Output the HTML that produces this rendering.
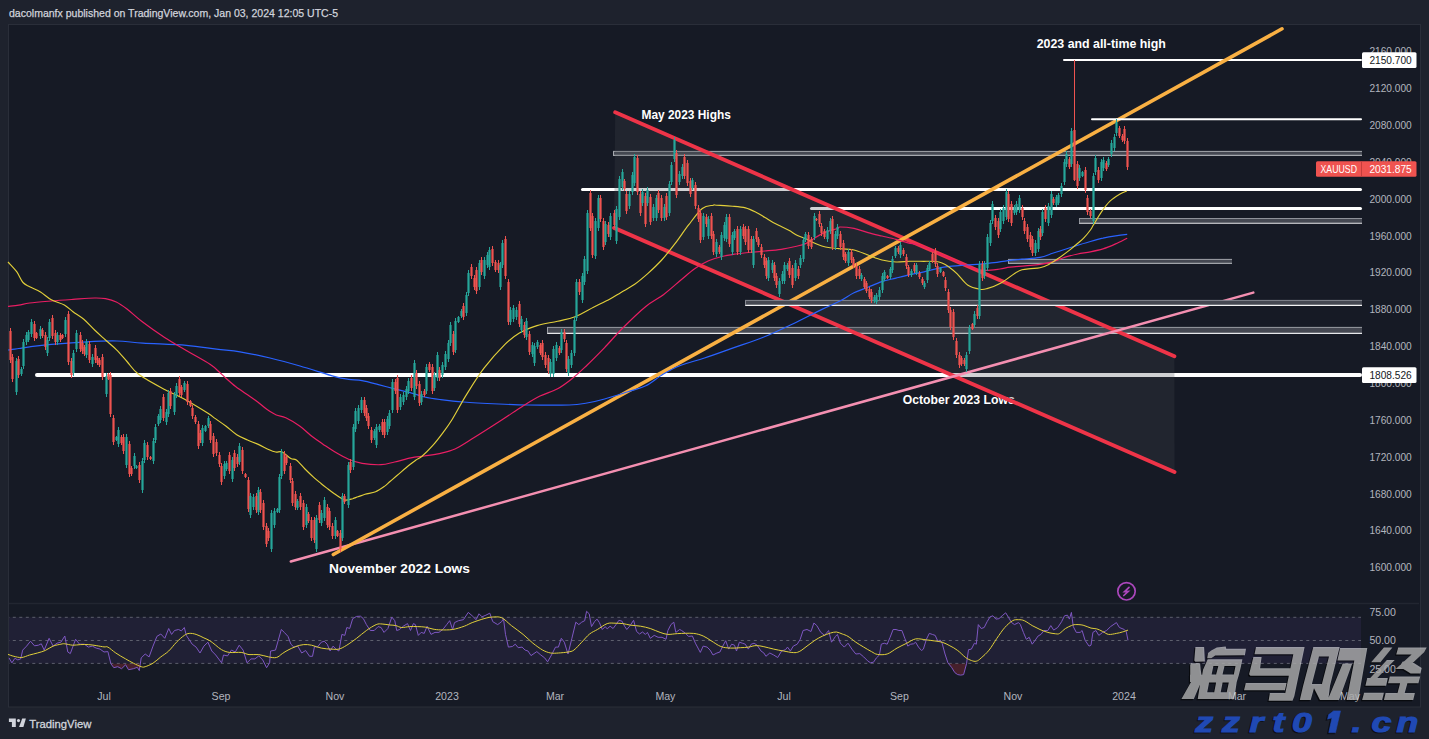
<!DOCTYPE html><html><head><meta charset="utf-8"><title>XAUUSD</title><style>
html,body{margin:0;padding:0;width:1429px;height:739px;overflow:hidden;background:#1e222d}
svg{position:absolute;left:0;top:0;display:block}
text{font-family:"Liberation Sans",sans-serif}
</style></head><body>
<svg width="1429" height="739" viewBox="0 0 1429 739">
<rect x="0" y="0" width="1429" height="739" fill="#1e222d"/>
<rect x="8.5" y="24.5" width="1412" height="682.5" fill="#161a25" stroke="#2a2e39" stroke-width="1"/>
<text x="9" y="17" font-size="11" fill="#d1d4dc" stroke="#d1d4dc" stroke-width="0.25" textLength="329" lengthAdjust="spacingAndGlyphs">dacolmanfx published on TradingView.com, Jan 03, 2024 12:05 UTC-5</text>
<line x1="9" y1="603.5" x2="1419" y2="603.5" stroke="#222631" stroke-width="1.5"/>
<rect x="9" y="617.3" width="1352" height="46.1" fill="#7e57c2" fill-opacity="0.1"/>
<line x1="9" y1="617.3" x2="1361" y2="617.3" stroke="#787b86" stroke-width="1" stroke-dasharray="3 3.5" stroke-dashoffset="2.7" stroke-opacity="0.7"/>
<line x1="9" y1="640.5" x2="1361" y2="640.5" stroke="#787b86" stroke-width="1" stroke-dasharray="3 3.5" stroke-dashoffset="2.7" stroke-opacity="0.7"/>
<line x1="9" y1="663.4" x2="1361" y2="663.4" stroke="#787b86" stroke-width="1" stroke-dasharray="3 3.5" stroke-dashoffset="2.7" stroke-opacity="0.7"/>
<line x1="1064.0" y1="60.1" x2="1361.0" y2="60.1" stroke="#ffffff" stroke-width="2" stroke-linecap="round"/>
<line x1="582.5" y1="189.6" x2="1360.5" y2="189.6" stroke="#ffffff" stroke-width="3" stroke-linecap="round"/>
<line x1="811.5" y1="208.4" x2="1360.5" y2="208.4" stroke="#ffffff" stroke-width="3" stroke-linecap="round"/>
<line x1="37.0" y1="375" x2="1360.0" y2="375" stroke="#ffffff" stroke-width="4" stroke-linecap="round"/>
<g font-weight="700" fill="#ffffff">
<text x="1036.7" y="48.3" font-size="12.8" textLength="129.2" lengthAdjust="spacingAndGlyphs">2023 and all-time high</text>
<text x="641.5" y="118.9" font-size="12.2" textLength="89.3" lengthAdjust="spacingAndGlyphs">May 2023 Highs</text>
<text x="329" y="572.9" font-size="12.6" textLength="141" lengthAdjust="spacingAndGlyphs">November 2022 Lows</text>
<text x="902.7" y="404.3" font-size="11.9" textLength="112" lengthAdjust="spacingAndGlyphs">October 2023 Lows</text>
</g>
<rect x="613" y="151.4" width="749" height="4.0" fill="#454852"/>
<line x1="613" y1="151.4" x2="1362" y2="151.4" stroke="#a5a8ae" stroke-width="1"/>
<line x1="613" y1="155.4" x2="1362" y2="155.4" stroke="#a5a8ae" stroke-width="1.1"/>
<line x1="613.5" y1="151.4" x2="613.5" y2="155.4" stroke="#a5a8ae" stroke-width="1"/>
<rect x="547" y="327.4" width="815" height="6.0" fill="#454852"/>
<line x1="547" y1="327.4" x2="1362" y2="327.4" stroke="#9a9da4" stroke-width="1"/>
<line x1="547" y1="333.4" x2="1362" y2="333.4" stroke="#e6e7ea" stroke-width="1.1"/>
<line x1="547.5" y1="327.4" x2="547.5" y2="333.4" stroke="#9a9da4" stroke-width="1"/>
<rect x="1079" y="218.5" width="283" height="4.8" fill="#454852"/>
<line x1="1079" y1="218.5" x2="1362" y2="218.5" stroke="#8e9199" stroke-width="1"/>
<line x1="1079" y1="223.3" x2="1362" y2="223.3" stroke="#e6e7ea" stroke-width="1.1"/>
<line x1="1079.5" y1="218.5" x2="1079.5" y2="223.3" stroke="#8e9199" stroke-width="1"/>
<rect x="1008" y="259.4" width="224" height="4.0" fill="#454852"/>
<line x1="1008" y1="259.4" x2="1232" y2="259.4" stroke="#a0a3a9" stroke-width="1"/>
<line x1="1008" y1="263.4" x2="1232" y2="263.4" stroke="#a0a3a9" stroke-width="1.1"/>
<line x1="1008.5" y1="259.4" x2="1008.5" y2="263.4" stroke="#a0a3a9" stroke-width="1"/>
<polygon points="615.2,112.3 1174.4,356.3 1174.5,472 614.1,227.9" fill="#434651" fill-opacity="0.25"/>
<line x1="615.2" y1="112.3" x2="1174.4" y2="356.3" stroke="#ee3448" stroke-width="3.9" stroke-linecap="round"/>
<line x1="614.1" y1="227.9" x2="1174.5" y2="472" stroke="#ee3448" stroke-width="3.9" stroke-linecap="round"/>
<line x1="290.8" y1="561.5" x2="1253.3" y2="292.6" stroke="#f48fb1" stroke-width="2.5" stroke-linecap="round"/>
<line x1="333.3" y1="554.5" x2="1282" y2="28.8" stroke="#f9b043" stroke-width="3.6" stroke-linecap="round"/>
<line x1="1092" y1="119.2" x2="1361" y2="119.2" stroke="#ffffff" stroke-width="2" stroke-linecap="round"/>
<rect x="745" y="300.4" width="617" height="5.0" fill="#454852"/>
<line x1="745" y1="300.4" x2="1362" y2="300.4" stroke="#858891" stroke-width="1"/>
<line x1="745" y1="305.4" x2="1362" y2="305.4" stroke="#f2f2f4" stroke-width="1.1"/>
<line x1="745.5" y1="300.4" x2="745.5" y2="305.4" stroke="#858891" stroke-width="1"/>
<path d="M8.0,350.0 C9.8,349.8 15.2,349.0 18.8,348.5 C22.4,348.0 24.3,347.5 29.7,346.8 C35.1,346.1 41.8,345.2 51.3,344.4 C60.8,343.6 75.8,342.4 86.7,341.8 C97.7,341.2 107.6,340.8 117.0,341.0 C126.4,341.2 131.4,342.4 143.0,343.1 C154.6,343.8 174.0,344.3 186.3,345.3 C198.6,346.3 207.7,348.1 216.6,349.2 C225.5,350.3 231.1,350.3 240.0,351.8 C248.9,353.3 260.0,355.6 270.0,358.0 C280.0,360.4 289.2,362.9 300.0,366.0 C310.8,369.1 326.9,374.4 335.0,376.6 C343.1,378.8 344.1,378.6 348.6,379.3 C353.1,380.0 357.1,379.8 362.1,380.7 C367.1,381.6 373.0,383.3 378.4,384.7 C383.8,386.1 389.2,387.4 394.6,388.8 C400.0,390.2 405.9,391.4 410.9,392.8 C415.9,394.2 419.5,395.9 424.4,397.0 C429.2,398.1 433.5,398.7 440.0,399.5 C446.5,400.3 453.7,401.2 463.5,402.0 C473.3,402.8 488.0,403.5 498.8,404.0 C509.6,404.5 516.5,404.8 528.2,405.0 C540.0,405.2 559.5,405.3 569.3,405.0 C579.1,404.7 581.1,404.0 587.0,403.0 C592.9,402.0 597.8,400.9 604.6,399.0 C611.4,397.1 621.1,393.9 628.0,391.7 C634.9,389.5 639.9,388.8 645.8,385.8 C651.7,382.9 657.5,377.4 663.4,374.0 C669.3,370.6 674.1,367.9 681.0,365.2 C687.9,362.5 695.7,360.9 704.5,358.0 C713.3,355.1 724.2,351.1 734.0,347.6 C743.8,344.2 753.5,341.2 763.3,337.3 C773.1,333.4 782.9,328.6 792.7,324.0 C802.5,319.4 814.1,313.2 822.0,309.4 C829.9,305.6 834.7,303.8 840.0,301.0 C845.3,298.2 849.3,295.1 854.0,292.8 C858.7,290.5 863.3,289.1 868.0,287.2 C872.7,285.3 877.3,283.1 882.0,281.6 C886.7,280.1 891.3,279.3 896.0,278.1 C900.7,276.9 905.3,275.7 910.0,274.6 C914.7,273.6 919.3,272.9 924.0,271.8 C928.7,270.8 933.3,269.2 938.0,268.3 C942.7,267.4 947.3,266.8 952.0,266.2 C956.7,265.6 961.3,265.4 966.0,265.0 C970.7,264.6 975.3,264.5 980.0,264.1 C984.7,263.7 989.3,263.3 994.0,262.7 C998.7,262.1 1003.3,261.2 1008.0,260.6 C1012.7,260.0 1016.7,259.7 1022.0,259.2 C1027.3,258.7 1034.9,258.4 1040.0,257.4 C1045.1,256.4 1048.4,254.7 1052.6,253.3 C1056.8,251.9 1061.0,250.5 1065.2,249.2 C1069.4,247.8 1073.6,246.5 1077.8,245.2 C1082.0,243.9 1086.2,242.7 1090.4,241.5 C1094.6,240.3 1098.8,239.1 1103.0,238.2 C1107.2,237.2 1111.6,236.4 1115.6,235.8 C1119.6,235.2 1125.3,234.6 1127.2,234.4" fill="none" stroke="#2962ff" stroke-width="1.2"/>
<path d="M8.0,306.3 C9.8,306.1 15.2,305.8 18.8,305.2 C22.4,304.6 24.3,303.7 29.7,303.0 C35.1,302.3 44.1,301.6 51.3,301.0 C58.5,300.4 65.8,299.9 73.0,299.4 C80.2,298.9 89.2,298.1 94.6,298.0 C100.0,297.9 101.9,298.0 105.5,298.7 C109.1,299.4 112.7,300.3 116.3,302.0 C119.9,303.7 122.5,305.6 127.0,309.0 C131.4,312.4 136.7,317.6 143.0,322.3 C149.3,327.1 157.4,332.8 164.6,337.5 C171.8,342.2 178.7,346.0 186.3,350.5 C193.9,355.0 204.5,360.7 210.0,364.3 C215.5,367.9 217.1,370.2 219.5,372.3 C221.9,374.4 221.5,374.2 224.2,376.6 C226.9,379.0 231.6,383.4 235.6,386.5 C239.6,389.6 244.3,392.5 247.9,395.0 C251.5,397.5 254.2,399.3 257.4,401.7 C260.5,404.1 263.6,407.1 266.8,409.3 C270.0,411.5 273.1,413.6 276.3,415.0 C279.5,416.4 281.9,415.9 285.8,417.8 C289.8,419.7 295.6,423.1 300.0,426.3 C304.4,429.5 308.6,433.8 312.5,436.8 C316.4,439.8 319.7,441.9 323.3,444.4 C326.9,446.8 330.0,449.0 334.2,451.5 C338.4,454.0 344.0,457.2 348.6,459.2 C353.2,461.2 356.7,462.4 362.1,463.3 C367.5,464.2 375.6,464.9 381.0,464.7 C386.4,464.5 389.6,463.1 394.6,462.0 C399.6,460.9 405.9,458.9 410.9,457.9 C415.9,456.9 419.9,456.7 424.4,456.0 C428.9,455.3 432.9,455.0 438.0,453.8 C443.1,452.6 448.8,451.8 455.0,449.0 C461.2,446.2 467.2,441.8 475.0,437.0 C482.8,432.2 493.8,425.1 501.7,420.0 C509.6,414.9 515.9,410.4 522.3,406.4 C528.7,402.4 534.1,398.9 540.0,396.0 C545.9,393.1 552.2,391.7 557.6,388.8 C563.0,385.9 567.4,382.4 572.3,378.5 C577.2,374.6 581.6,370.3 587.0,365.2 C592.4,360.1 598.7,353.7 604.6,347.6 C610.5,341.5 615.4,335.4 622.3,328.5 C629.2,321.6 638.9,312.1 645.8,306.5 C652.6,300.9 657.4,299.2 663.4,294.7 C669.4,290.2 676.2,283.9 681.5,279.5 C686.8,275.1 690.5,271.6 695.0,268.5 C699.5,265.4 704.1,262.8 708.6,260.8 C713.1,258.8 717.5,257.6 722.0,256.5 C726.5,255.4 731.2,254.7 735.7,254.0 C740.2,253.3 743.8,253.0 748.7,252.5 C753.6,252.0 759.6,251.5 765.0,251.0 C770.4,250.5 775.8,250.1 781.2,249.3 C786.6,248.5 793.4,246.9 797.5,246.0 C801.6,245.1 802.9,244.8 805.6,243.6 C808.3,242.4 811.0,240.3 813.7,238.7 C816.4,237.1 819.1,235.2 821.8,233.9 C824.5,232.6 827.3,231.5 830.0,230.6 C832.7,229.7 836.3,229.1 838.0,228.5 C839.7,227.9 837.3,227.0 840.0,227.0 C842.7,227.0 849.3,227.5 854.0,228.4 C858.7,229.3 863.3,231.3 868.0,232.6 C872.7,233.9 877.3,234.9 882.0,236.0 C886.7,237.1 891.7,238.2 896.0,239.3 C900.3,240.4 904.0,241.8 908.0,242.8 C912.0,243.8 915.5,243.8 920.0,245.3 C924.5,246.8 930.0,249.6 935.0,251.8 C940.0,254.0 945.0,256.2 950.0,258.4 C955.0,260.6 960.7,263.1 965.0,264.9 C969.3,266.7 972.5,268.3 976.0,269.2 C979.5,270.1 982.0,270.4 986.0,270.4 C990.0,270.4 996.0,269.5 1000.0,269.0 C1004.0,268.5 1005.8,267.7 1010.0,267.2 C1014.2,266.7 1020.0,266.3 1025.0,265.8 C1030.0,265.3 1035.4,265.1 1040.0,264.4 C1044.6,263.7 1048.4,263.0 1052.6,261.8 C1056.8,260.6 1061.0,258.4 1065.2,257.1 C1069.4,255.8 1073.6,254.9 1077.8,254.0 C1082.0,253.1 1086.2,252.7 1090.4,251.8 C1094.6,251.0 1098.8,250.2 1103.0,248.9 C1107.2,247.6 1111.6,245.7 1115.6,243.9 C1119.6,242.1 1125.3,239.1 1127.2,238.2" fill="none" stroke="#e91e63" stroke-width="1.2"/>
<path d="M8.0,262.0 C9.4,263.6 14.2,268.3 16.7,271.7 C19.2,275.1 20.8,280.0 23.0,282.5 C25.2,285.0 26.8,285.2 29.7,286.8 C32.6,288.4 36.9,289.8 40.5,292.0 C44.1,294.2 47.3,297.6 51.3,299.8 C55.3,302.0 60.7,303.0 64.3,305.0 C67.9,307.0 69.8,309.3 73.0,311.7 C76.2,314.1 80.2,316.2 83.8,319.3 C87.4,322.4 91.0,326.6 94.6,330.0 C98.2,333.4 101.9,336.7 105.5,340.0 C109.1,343.3 112.7,346.0 116.3,349.6 C119.9,353.2 123.3,357.4 127.0,361.5 C130.7,365.6 132.3,369.6 138.6,374.3 C144.9,379.0 156.6,385.2 164.6,389.5 C172.6,393.8 179.1,396.3 186.3,400.3 C193.5,404.3 203.2,410.3 208.0,413.3 C212.8,416.3 212.0,416.3 215.0,418.4 C218.0,420.5 222.2,423.3 225.8,426.0 C229.4,428.7 233.1,432.4 236.7,434.7 C240.3,437.0 243.9,438.4 247.5,440.0 C251.1,441.6 254.7,442.8 258.3,444.4 C261.9,446.0 266.3,448.5 269.2,449.8 C272.1,451.1 273.5,451.6 275.7,452.0 C277.9,452.4 279.7,450.9 282.2,452.0 C284.7,453.1 288.4,457.2 290.8,458.5 C293.2,459.8 294.0,458.2 296.4,460.0 C298.8,461.8 302.1,466.1 305.0,469.0 C307.9,471.9 311.3,475.2 314.0,477.6 C316.7,480.0 318.7,481.6 321.0,483.5 C323.3,485.4 325.8,487.3 328.0,489.0 C330.2,490.7 331.9,492.0 334.0,493.5 C336.1,495.0 338.4,496.7 340.4,497.8 C342.3,498.9 343.6,500.0 345.7,500.1 C347.8,500.2 350.6,499.2 352.7,498.7 C354.8,498.1 355.9,497.5 358.0,496.8 C360.1,496.1 362.1,495.2 365.0,494.3 C367.9,493.4 372.4,493.0 375.6,491.7 C378.8,490.4 382.0,488.1 384.4,486.4 C386.8,484.7 387.9,483.3 390.0,481.5 C392.1,479.7 393.5,478.5 396.7,475.8 C399.9,473.1 405.8,467.9 409.0,465.3 C412.2,462.7 413.9,461.5 416.0,460.0 C418.1,458.5 418.9,458.9 421.7,456.5 C424.5,454.1 429.0,449.8 432.6,445.7 C436.2,441.6 440.2,436.4 443.4,432.1 C446.6,427.8 447.9,426.2 451.8,420.0 C455.7,413.8 461.1,403.2 466.5,394.6 C471.9,386.0 477.6,376.5 484.0,368.2 C490.4,359.9 498.8,350.6 504.7,344.7 C510.6,338.8 514.0,336.2 519.4,333.0 C524.8,329.8 530.6,327.6 537.0,325.6 C543.4,323.6 551.3,322.7 557.6,321.2 C563.9,319.7 568.9,319.1 575.0,316.7 C581.1,314.3 588.2,309.9 594.0,307.0 C599.8,304.1 605.5,301.4 610.0,299.0 C614.5,296.6 616.9,294.8 621.0,292.4 C625.1,289.9 630.2,287.5 634.7,284.3 C639.2,281.1 643.5,277.4 648.0,273.4 C652.5,269.3 657.2,264.9 661.7,260.0 C666.2,255.1 670.5,249.6 675.0,243.7 C679.5,237.8 684.2,230.6 688.8,224.7 C693.3,218.8 698.2,211.8 702.3,208.5 C706.4,205.2 710.9,205.8 713.2,205.2 C715.5,204.6 713.0,205.0 716.2,205.2 C719.4,205.4 727.6,205.8 732.5,206.2 C737.4,206.6 741.4,206.8 745.5,207.9 C749.6,209.0 753.6,211.1 756.9,212.7 C760.1,214.3 762.3,216.0 765.0,217.6 C767.7,219.2 770.4,221.0 773.1,222.5 C775.8,224.0 778.5,225.2 781.2,226.5 C783.9,227.8 786.6,229.1 789.3,230.6 C792.0,232.1 794.8,234.2 797.5,235.5 C800.2,236.8 802.9,237.5 805.6,238.7 C808.3,239.9 811.0,241.6 813.7,242.8 C816.4,244.0 819.1,245.2 821.8,246.0 C824.5,246.8 827.3,247.3 830.0,247.7 C832.7,248.1 836.3,248.3 838.0,248.5 C839.7,248.7 837.3,248.4 840.0,248.7 C842.7,248.9 849.3,248.9 854.0,250.0 C858.7,251.1 863.3,253.3 868.0,255.0 C872.7,256.7 877.3,258.8 882.0,260.0 C886.7,261.2 891.3,261.8 896.0,262.0 C900.7,262.2 905.3,261.4 910.0,261.3 C914.7,261.2 919.7,261.3 924.0,261.3 C928.3,261.3 933.0,261.2 936.0,261.5 C939.0,261.8 940.0,262.2 942.0,263.0 C944.0,263.8 945.8,264.7 948.3,266.5 C950.8,268.3 954.0,270.8 957.2,273.9 C960.4,277.0 963.8,282.4 967.6,285.0 C971.4,287.6 976.8,288.7 980.0,289.3 C983.2,289.9 983.5,289.7 987.0,288.6 C990.5,287.6 996.3,285.6 1001.0,283.0 C1005.7,280.4 1011.5,275.4 1015.0,273.2 C1018.5,271.0 1019.3,270.5 1022.0,269.7 C1024.7,268.9 1028.0,268.9 1031.0,268.6 C1034.0,268.3 1037.0,268.5 1040.0,267.8 C1043.0,267.1 1045.6,266.0 1048.8,264.4 C1052.0,262.8 1055.3,260.5 1058.9,258.0 C1062.5,255.5 1067.1,252.0 1070.2,249.6 C1073.3,247.2 1075.5,245.3 1077.8,243.3 C1080.1,241.3 1082.0,239.8 1084.1,237.6 C1086.2,235.4 1088.8,232.2 1090.4,230.0 C1092.0,227.8 1091.8,227.6 1093.7,224.5 C1095.6,221.4 1099.1,215.3 1101.8,211.4 C1104.5,207.5 1107.0,204.1 1110.0,201.2 C1113.0,198.3 1117.3,195.7 1120.1,194.0 C1122.9,192.3 1125.7,191.5 1126.8,191.0" fill="none" stroke="#e2cf3a" stroke-width="1.15"/>
<g shape-rendering="crispEdges"><rect x="10" y="328" width="1" height="35" fill="#ef5350"/><rect x="12" y="354" width="1" height="28" fill="#ef5350"/><rect x="16" y="358" width="1" height="37" fill="#26a69a"/><rect x="18" y="356" width="1" height="22" fill="#ef5350"/><rect x="21" y="367" width="1" height="9" fill="#26a69a"/><rect x="23" y="339" width="1" height="30" fill="#26a69a"/><rect x="26" y="332" width="1" height="13" fill="#26a69a"/><rect x="28" y="330" width="1" height="12" fill="#26a69a"/><rect x="31" y="319" width="1" height="18" fill="#26a69a"/><rect x="34" y="321" width="1" height="20" fill="#ef5350"/><rect x="36" y="332" width="1" height="7" fill="#ef5350"/><rect x="40" y="326" width="1" height="13" fill="#26a69a"/><rect x="42" y="328" width="1" height="10" fill="#ef5350"/><rect x="45" y="332" width="1" height="18" fill="#ef5350"/><rect x="47" y="337" width="1" height="19" fill="#26a69a"/><rect x="49" y="319" width="1" height="22" fill="#26a69a"/><rect x="52" y="315" width="1" height="24" fill="#ef5350"/><rect x="55" y="330" width="1" height="15" fill="#ef5350"/><rect x="57" y="332" width="1" height="13" fill="#26a69a"/><rect x="60" y="333" width="1" height="9" fill="#ef5350"/><rect x="62" y="334" width="1" height="5" fill="#ef5350"/><rect x="65" y="317" width="1" height="20" fill="#26a69a"/><rect x="68" y="311" width="1" height="54" fill="#ef5350"/><rect x="71" y="358" width="1" height="20" fill="#ef5350"/><rect x="73" y="350" width="1" height="26" fill="#26a69a"/><rect x="76" y="330" width="1" height="22" fill="#26a69a"/><rect x="80" y="332" width="1" height="20" fill="#ef5350"/><rect x="82" y="340" width="1" height="14" fill="#ef5350"/><rect x="84" y="345" width="1" height="11" fill="#ef5350"/><rect x="86" y="339" width="1" height="19" fill="#26a69a"/><rect x="89" y="341" width="1" height="22" fill="#ef5350"/><rect x="92" y="354" width="1" height="13" fill="#26a69a"/><rect x="95" y="345" width="1" height="18" fill="#ef5350"/><rect x="97" y="356" width="1" height="9" fill="#ef5350"/><rect x="99" y="358" width="1" height="9" fill="#ef5350"/><rect x="102" y="354" width="1" height="26" fill="#ef5350"/><rect x="106" y="373" width="1" height="24" fill="#26a69a"/><rect x="108" y="373" width="1" height="7" fill="#ef5350"/><rect x="110" y="372" width="1" height="45" fill="#ef5350"/><rect x="113" y="415" width="1" height="30" fill="#ef5350"/><rect x="116" y="436" width="1" height="5" fill="#26a69a"/><rect x="118" y="427" width="1" height="20" fill="#26a69a"/><rect x="121" y="435" width="1" height="10" fill="#ef5350"/><rect x="123" y="434" width="1" height="20" fill="#ef5350"/><rect x="126" y="434" width="1" height="34" fill="#26a69a"/><rect x="129" y="441" width="1" height="36" fill="#ef5350"/><rect x="131" y="466" width="1" height="10" fill="#ef5350"/><rect x="134" y="453" width="1" height="16" fill="#26a69a"/><rect x="136" y="465" width="1" height="4" fill="#26a69a"/><rect x="139" y="462" width="1" height="21" fill="#ef5350"/><rect x="142" y="458" width="1" height="35" fill="#26a69a"/><rect x="144" y="440" width="1" height="23" fill="#26a69a"/><rect x="147" y="442" width="1" height="18" fill="#ef5350"/><rect x="150" y="456" width="1" height="4" fill="#ef5350"/><rect x="153" y="438" width="1" height="26" fill="#26a69a"/><rect x="155" y="424" width="1" height="19" fill="#26a69a"/><rect x="158" y="414" width="1" height="12" fill="#26a69a"/><rect x="160" y="406" width="1" height="17" fill="#26a69a"/><rect x="163" y="394" width="1" height="27" fill="#ef5350"/><rect x="166" y="409" width="1" height="16" fill="#26a69a"/><rect x="168" y="390" width="1" height="27" fill="#26a69a"/><rect x="170" y="388" width="1" height="21" fill="#ef5350"/><rect x="174" y="392" width="1" height="23" fill="#26a69a"/><rect x="176" y="383" width="1" height="15" fill="#26a69a"/><rect x="179" y="376" width="1" height="20" fill="#ef5350"/><rect x="181" y="385" width="1" height="12" fill="#ef5350"/><rect x="184" y="381" width="1" height="11" fill="#26a69a"/><rect x="187" y="381" width="1" height="24" fill="#ef5350"/><rect x="190" y="400" width="1" height="7" fill="#ef5350"/><rect x="192" y="405" width="1" height="14" fill="#ef5350"/><rect x="195" y="415" width="1" height="9" fill="#ef5350"/><rect x="198" y="421" width="1" height="28" fill="#ef5350"/><rect x="200" y="430" width="1" height="13" fill="#ef5350"/><rect x="202" y="425" width="1" height="21" fill="#26a69a"/><rect x="205" y="425" width="1" height="7" fill="#26a69a"/><rect x="208" y="416" width="1" height="12" fill="#26a69a"/><rect x="210" y="421" width="1" height="22" fill="#ef5350"/><rect x="213" y="433" width="1" height="24" fill="#ef5350"/><rect x="216" y="439" width="1" height="17" fill="#ef5350"/><rect x="219" y="452" width="1" height="15" fill="#ef5350"/><rect x="221" y="463" width="1" height="22" fill="#ef5350"/><rect x="224" y="461" width="1" height="18" fill="#26a69a"/><rect x="226" y="461" width="1" height="10" fill="#26a69a"/><rect x="229" y="452" width="1" height="22" fill="#ef5350"/><rect x="232" y="457" width="1" height="25" fill="#26a69a"/><rect x="234" y="450" width="1" height="21" fill="#ef5350"/><rect x="237" y="454" width="1" height="13" fill="#ef5350"/><rect x="239" y="443" width="1" height="22" fill="#26a69a"/><rect x="242" y="447" width="1" height="27" fill="#ef5350"/><rect x="245" y="473" width="1" height="5" fill="#ef5350"/><rect x="248" y="477" width="1" height="35" fill="#ef5350"/><rect x="250" y="493" width="1" height="25" fill="#26a69a"/><rect x="253" y="494" width="1" height="16" fill="#26a69a"/><rect x="256" y="493" width="1" height="20" fill="#ef5350"/><rect x="258" y="487" width="1" height="28" fill="#26a69a"/><rect x="260" y="489" width="1" height="24" fill="#ef5350"/><rect x="263" y="500" width="1" height="30" fill="#ef5350"/><rect x="266" y="523" width="1" height="24" fill="#ef5350"/><rect x="268" y="528" width="1" height="13" fill="#ef5350"/><rect x="271" y="510" width="1" height="42" fill="#26a69a"/><rect x="274" y="508" width="1" height="20" fill="#26a69a"/><rect x="277" y="508" width="1" height="5" fill="#26a69a"/><rect x="279" y="474" width="1" height="39" fill="#26a69a"/><rect x="281" y="449" width="1" height="30" fill="#26a69a"/><rect x="284" y="451" width="1" height="23" fill="#ef5350"/><rect x="286" y="455" width="1" height="10" fill="#ef5350"/><rect x="290" y="463" width="1" height="20" fill="#ef5350"/><rect x="292" y="478" width="1" height="28" fill="#ef5350"/><rect x="295" y="491" width="1" height="19" fill="#ef5350"/><rect x="297" y="499" width="1" height="11" fill="#26a69a"/><rect x="300" y="493" width="1" height="17" fill="#ef5350"/><rect x="303" y="500" width="1" height="30" fill="#ef5350"/><rect x="306" y="504" width="1" height="24" fill="#26a69a"/><rect x="308" y="512" width="1" height="11" fill="#ef5350"/><rect x="311" y="517" width="1" height="24" fill="#ef5350"/><rect x="314" y="517" width="1" height="26" fill="#ef5350"/><rect x="316" y="515" width="1" height="37" fill="#26a69a"/><rect x="319" y="502" width="1" height="21" fill="#ef5350"/><rect x="321" y="510" width="1" height="16" fill="#26a69a"/><rect x="324" y="497" width="1" height="24" fill="#26a69a"/><rect x="327" y="504" width="1" height="24" fill="#ef5350"/><rect x="329" y="508" width="1" height="22" fill="#ef5350"/><rect x="332" y="523" width="1" height="16" fill="#ef5350"/><rect x="335" y="517" width="1" height="22" fill="#26a69a"/><rect x="337" y="530" width="1" height="7" fill="#ef5350"/><rect x="340" y="530" width="1" height="22" fill="#ef5350"/><rect x="342" y="493" width="1" height="48" fill="#26a69a"/><rect x="344" y="494" width="1" height="10" fill="#ef5350"/><rect x="348" y="462" width="1" height="46" fill="#26a69a"/><rect x="350" y="459" width="1" height="14" fill="#ef5350"/><rect x="353" y="424" width="1" height="46" fill="#26a69a"/><rect x="355" y="408" width="1" height="24" fill="#26a69a"/><rect x="358" y="405" width="1" height="19" fill="#26a69a"/><rect x="361" y="397" width="1" height="16" fill="#26a69a"/><rect x="364" y="397" width="1" height="19" fill="#ef5350"/><rect x="366" y="405" width="1" height="16" fill="#ef5350"/><rect x="368" y="413" width="1" height="16" fill="#ef5350"/><rect x="371" y="427" width="1" height="16" fill="#ef5350"/><rect x="374" y="429" width="1" height="11" fill="#26a69a"/><rect x="376" y="424" width="1" height="24" fill="#26a69a"/><rect x="379" y="424" width="1" height="8" fill="#26a69a"/><rect x="382" y="419" width="1" height="16" fill="#ef5350"/><rect x="384" y="419" width="1" height="19" fill="#ef5350"/><rect x="387" y="416" width="1" height="19" fill="#26a69a"/><rect x="389" y="410" width="1" height="19" fill="#26a69a"/><rect x="392" y="379" width="1" height="34" fill="#26a69a"/><rect x="395" y="379" width="1" height="15" fill="#ef5350"/><rect x="397" y="375" width="1" height="38" fill="#ef5350"/><rect x="400" y="394" width="1" height="16" fill="#26a69a"/><rect x="403" y="392" width="1" height="13" fill="#26a69a"/><rect x="406" y="386" width="1" height="14" fill="#26a69a"/><rect x="408" y="378" width="1" height="16" fill="#26a69a"/><rect x="411" y="375" width="1" height="16" fill="#ef5350"/><rect x="414" y="360" width="1" height="40" fill="#26a69a"/><rect x="416" y="370" width="1" height="19" fill="#ef5350"/><rect x="419" y="381" width="1" height="25" fill="#ef5350"/><rect x="421" y="391" width="1" height="14" fill="#26a69a"/><rect x="424" y="389" width="1" height="8" fill="#ef5350"/><rect x="426" y="364" width="1" height="30" fill="#26a69a"/><rect x="429" y="362" width="1" height="10" fill="#ef5350"/><rect x="432" y="364" width="1" height="30" fill="#ef5350"/><rect x="434" y="372" width="1" height="19" fill="#26a69a"/><rect x="437" y="352" width="1" height="29" fill="#26a69a"/><rect x="439" y="367" width="1" height="14" fill="#ef5350"/><rect x="442" y="362" width="1" height="16" fill="#26a69a"/><rect x="445" y="351" width="1" height="19" fill="#26a69a"/><rect x="448" y="340" width="1" height="22" fill="#26a69a"/><rect x="450" y="322" width="1" height="24" fill="#26a69a"/><rect x="453" y="331" width="1" height="24" fill="#ef5350"/><rect x="455" y="318" width="1" height="35" fill="#26a69a"/><rect x="458" y="316" width="1" height="7" fill="#26a69a"/><rect x="461" y="309" width="1" height="9" fill="#26a69a"/><rect x="463" y="303" width="1" height="17" fill="#ef5350"/><rect x="466" y="292" width="1" height="24" fill="#26a69a"/><rect x="468" y="270" width="1" height="26" fill="#26a69a"/><rect x="471" y="264" width="1" height="15" fill="#ef5350"/><rect x="474" y="275" width="1" height="15" fill="#ef5350"/><rect x="476" y="267" width="1" height="27" fill="#ef5350"/><rect x="479" y="260" width="1" height="30" fill="#26a69a"/><rect x="481" y="257" width="1" height="18" fill="#ef5350"/><rect x="484" y="257" width="1" height="22" fill="#26a69a"/><rect x="487" y="252" width="1" height="16" fill="#26a69a"/><rect x="489" y="247" width="1" height="23" fill="#26a69a"/><rect x="492" y="246" width="1" height="20" fill="#ef5350"/><rect x="495" y="260" width="1" height="12" fill="#ef5350"/><rect x="498" y="260" width="1" height="13" fill="#ef5350"/><rect x="500" y="262" width="1" height="28" fill="#26a69a"/><rect x="502" y="240" width="1" height="28" fill="#26a69a"/><rect x="505" y="236" width="1" height="43" fill="#ef5350"/><rect x="508" y="279" width="1" height="46" fill="#ef5350"/><rect x="510" y="307" width="1" height="18" fill="#26a69a"/><rect x="513" y="305" width="1" height="17" fill="#26a69a"/><rect x="516" y="307" width="1" height="13" fill="#26a69a"/><rect x="519" y="301" width="1" height="26" fill="#ef5350"/><rect x="521" y="316" width="1" height="17" fill="#26a69a"/><rect x="524" y="322" width="1" height="16" fill="#ef5350"/><rect x="526" y="318" width="1" height="22" fill="#26a69a"/><rect x="529" y="331" width="1" height="24" fill="#ef5350"/><rect x="532" y="342" width="1" height="15" fill="#26a69a"/><rect x="534" y="343" width="1" height="23" fill="#26a69a"/><rect x="537" y="340" width="1" height="9" fill="#26a69a"/><rect x="540" y="343" width="1" height="12" fill="#ef5350"/><rect x="542" y="340" width="1" height="20" fill="#ef5350"/><rect x="545" y="352" width="1" height="16" fill="#ef5350"/><rect x="548" y="355" width="1" height="19" fill="#ef5350"/><rect x="550" y="359" width="1" height="18" fill="#26a69a"/><rect x="553" y="346" width="1" height="31" fill="#26a69a"/><rect x="556" y="342" width="1" height="19" fill="#26a69a"/><rect x="559" y="346" width="1" height="9" fill="#ef5350"/><rect x="561" y="329" width="1" height="24" fill="#26a69a"/><rect x="564" y="329" width="1" height="13" fill="#ef5350"/><rect x="566" y="340" width="1" height="32" fill="#ef5350"/><rect x="568" y="356" width="1" height="20" fill="#26a69a"/><rect x="571" y="350" width="1" height="18" fill="#26a69a"/><rect x="574" y="317" width="1" height="39" fill="#26a69a"/><rect x="576" y="279" width="1" height="42" fill="#26a69a"/><rect x="579" y="279" width="1" height="16" fill="#ef5350"/><rect x="582" y="273" width="1" height="30" fill="#26a69a"/><rect x="584" y="256" width="1" height="29" fill="#26a69a"/><rect x="587" y="210" width="1" height="64" fill="#26a69a"/><rect x="590" y="190" width="1" height="41" fill="#ef5350"/><rect x="592" y="213" width="1" height="45" fill="#ef5350"/><rect x="595" y="218" width="1" height="41" fill="#26a69a"/><rect x="598" y="195" width="1" height="36" fill="#26a69a"/><rect x="600" y="195" width="1" height="27" fill="#ef5350"/><rect x="603" y="218" width="1" height="32" fill="#ef5350"/><rect x="605" y="221" width="1" height="24" fill="#26a69a"/><rect x="608" y="222" width="1" height="15" fill="#ef5350"/><rect x="610" y="213" width="1" height="27" fill="#26a69a"/><rect x="614" y="210" width="1" height="18" fill="#ef5350"/><rect x="616" y="206" width="1" height="38" fill="#26a69a"/><rect x="619" y="176" width="1" height="44" fill="#26a69a"/><rect x="622" y="169" width="1" height="21" fill="#26a69a"/><rect x="624" y="179" width="1" height="12" fill="#ef5350"/><rect x="626" y="191" width="1" height="23" fill="#ef5350"/><rect x="629" y="191" width="1" height="18" fill="#26a69a"/><rect x="632" y="172" width="1" height="23" fill="#26a69a"/><rect x="634" y="154" width="1" height="32" fill="#26a69a"/><rect x="637" y="155" width="1" height="40" fill="#ef5350"/><rect x="640" y="191" width="1" height="25" fill="#ef5350"/><rect x="642" y="189" width="1" height="17" fill="#26a69a"/><rect x="645" y="193" width="1" height="34" fill="#ef5350"/><rect x="647" y="187" width="1" height="19" fill="#26a69a"/><rect x="650" y="194" width="1" height="31" fill="#ef5350"/><rect x="653" y="204" width="1" height="17" fill="#26a69a"/><rect x="656" y="195" width="1" height="26" fill="#26a69a"/><rect x="658" y="190" width="1" height="23" fill="#ef5350"/><rect x="661" y="195" width="1" height="26" fill="#ef5350"/><rect x="664" y="204" width="1" height="17" fill="#26a69a"/><rect x="666" y="193" width="1" height="27" fill="#ef5350"/><rect x="669" y="181" width="1" height="35" fill="#26a69a"/><rect x="671" y="162" width="1" height="23" fill="#26a69a"/><rect x="674" y="137" width="1" height="25" fill="#26a69a"/><rect x="676" y="150" width="1" height="48" fill="#ef5350"/><rect x="679" y="171" width="1" height="14" fill="#26a69a"/><rect x="682" y="164" width="1" height="15" fill="#26a69a"/><rect x="684" y="154" width="1" height="25" fill="#ef5350"/><rect x="687" y="160" width="1" height="26" fill="#ef5350"/><rect x="690" y="178" width="1" height="19" fill="#ef5350"/><rect x="692" y="178" width="1" height="12" fill="#26a69a"/><rect x="695" y="182" width="1" height="27" fill="#ef5350"/><rect x="698" y="205" width="1" height="17" fill="#ef5350"/><rect x="700" y="210" width="1" height="33" fill="#ef5350"/><rect x="703" y="213" width="1" height="27" fill="#26a69a"/><rect x="706" y="214" width="1" height="13" fill="#ef5350"/><rect x="708" y="216" width="1" height="23" fill="#26a69a"/><rect x="711" y="213" width="1" height="26" fill="#ef5350"/><rect x="713" y="231" width="1" height="24" fill="#ef5350"/><rect x="716" y="239" width="1" height="18" fill="#26a69a"/><rect x="719" y="245" width="1" height="9" fill="#ef5350"/><rect x="721" y="232" width="1" height="28" fill="#26a69a"/><rect x="724" y="222" width="1" height="19" fill="#26a69a"/><rect x="726" y="214" width="1" height="28" fill="#26a69a"/><rect x="729" y="214" width="1" height="33" fill="#ef5350"/><rect x="732" y="232" width="1" height="23" fill="#26a69a"/><rect x="734" y="229" width="1" height="11" fill="#26a69a"/><rect x="737" y="226" width="1" height="29" fill="#ef5350"/><rect x="740" y="226" width="1" height="29" fill="#26a69a"/><rect x="743" y="224" width="1" height="15" fill="#ef5350"/><rect x="745" y="226" width="1" height="19" fill="#ef5350"/><rect x="748" y="226" width="1" height="27" fill="#ef5350"/><rect x="751" y="236" width="1" height="17" fill="#ef5350"/><rect x="753" y="236" width="1" height="32" fill="#26a69a"/><rect x="756" y="228" width="1" height="14" fill="#ef5350"/><rect x="758" y="237" width="1" height="10" fill="#ef5350"/><rect x="761" y="244" width="1" height="14" fill="#ef5350"/><rect x="764" y="254" width="1" height="14" fill="#ef5350"/><rect x="766" y="258" width="1" height="21" fill="#ef5350"/><rect x="768" y="257" width="1" height="24" fill="#26a69a"/><rect x="772" y="260" width="1" height="13" fill="#26a69a"/><rect x="774" y="262" width="1" height="19" fill="#ef5350"/><rect x="776" y="273" width="1" height="15" fill="#ef5350"/><rect x="779" y="278" width="1" height="19" fill="#26a69a"/><rect x="782" y="271" width="1" height="13" fill="#26a69a"/><rect x="784" y="262" width="1" height="22" fill="#26a69a"/><rect x="787" y="263" width="1" height="8" fill="#26a69a"/><rect x="789" y="258" width="1" height="20" fill="#ef5350"/><rect x="792" y="265" width="1" height="23" fill="#ef5350"/><rect x="795" y="260" width="1" height="21" fill="#26a69a"/><rect x="798" y="266" width="1" height="13" fill="#ef5350"/><rect x="800" y="255" width="1" height="13" fill="#26a69a"/><rect x="803" y="237" width="1" height="25" fill="#26a69a"/><rect x="805" y="232" width="1" height="10" fill="#26a69a"/><rect x="808" y="232" width="1" height="17" fill="#ef5350"/><rect x="811" y="237" width="1" height="12" fill="#ef5350"/><rect x="814" y="213" width="1" height="27" fill="#26a69a"/><rect x="816" y="218" width="1" height="3" fill="#ef5350"/><rect x="819" y="211" width="1" height="16" fill="#ef5350"/><rect x="821" y="223" width="1" height="13" fill="#ef5350"/><rect x="824" y="229" width="1" height="10" fill="#ef5350"/><rect x="827" y="227" width="1" height="15" fill="#26a69a"/><rect x="830" y="218" width="1" height="16" fill="#26a69a"/><rect x="832" y="216" width="1" height="34" fill="#ef5350"/><rect x="835" y="231" width="1" height="19" fill="#26a69a"/><rect x="837" y="224" width="1" height="15" fill="#26a69a"/><rect x="840" y="231" width="1" height="19" fill="#ef5350"/><rect x="843" y="240" width="1" height="20" fill="#ef5350"/><rect x="845" y="252" width="1" height="11" fill="#ef5350"/><rect x="848" y="249" width="1" height="17" fill="#26a69a"/><rect x="851" y="249" width="1" height="14" fill="#ef5350"/><rect x="853" y="257" width="1" height="11" fill="#ef5350"/><rect x="856" y="263" width="1" height="16" fill="#ef5350"/><rect x="859" y="266" width="1" height="13" fill="#ef5350"/><rect x="861" y="273" width="1" height="8" fill="#26a69a"/><rect x="864" y="277" width="1" height="12" fill="#ef5350"/><rect x="866" y="281" width="1" height="12" fill="#ef5350"/><rect x="869" y="287" width="1" height="12" fill="#ef5350"/><rect x="871" y="289" width="1" height="14" fill="#ef5350"/><rect x="874" y="295" width="1" height="8" fill="#26a69a"/><rect x="876" y="293" width="1" height="11" fill="#26a69a"/><rect x="879" y="287" width="1" height="13" fill="#26a69a"/><rect x="882" y="273" width="1" height="20" fill="#26a69a"/><rect x="884" y="270" width="1" height="11" fill="#26a69a"/><rect x="887" y="275" width="1" height="4" fill="#ef5350"/><rect x="890" y="267" width="1" height="12" fill="#26a69a"/><rect x="892" y="256" width="1" height="17" fill="#26a69a"/><rect x="895" y="246" width="1" height="12" fill="#26a69a"/><rect x="898" y="246" width="1" height="8" fill="#ef5350"/><rect x="900" y="242" width="1" height="16" fill="#26a69a"/><rect x="903" y="248" width="1" height="8" fill="#ef5350"/><rect x="906" y="254" width="1" height="15" fill="#ef5350"/><rect x="908" y="265" width="1" height="12" fill="#ef5350"/><rect x="911" y="269" width="1" height="8" fill="#26a69a"/><rect x="914" y="263" width="1" height="10" fill="#ef5350"/><rect x="916" y="263" width="1" height="12" fill="#26a69a"/><rect x="919" y="271" width="1" height="8" fill="#ef5350"/><rect x="922" y="277" width="1" height="8" fill="#ef5350"/><rect x="924" y="281" width="1" height="8" fill="#26a69a"/><rect x="927" y="265" width="1" height="18" fill="#26a69a"/><rect x="929" y="261" width="1" height="10" fill="#26a69a"/><rect x="932" y="252" width="1" height="11" fill="#ef5350"/><rect x="935" y="248" width="1" height="19" fill="#ef5350"/><rect x="937" y="263" width="1" height="14" fill="#ef5350"/><rect x="940" y="267" width="1" height="6" fill="#26a69a"/><rect x="943" y="271" width="1" height="6" fill="#ef5350"/><rect x="945" y="277" width="1" height="14" fill="#ef5350"/><rect x="948" y="289" width="1" height="24" fill="#ef5350"/><rect x="950" y="307" width="1" height="23" fill="#ef5350"/><rect x="953" y="309" width="1" height="31" fill="#ef5350"/><rect x="956" y="338" width="1" height="20" fill="#ef5350"/><rect x="959" y="352" width="1" height="16" fill="#ef5350"/><rect x="961" y="356" width="1" height="10" fill="#ef5350"/><rect x="964" y="358" width="1" height="8" fill="#ef5350"/><rect x="966" y="352" width="1" height="20" fill="#26a69a"/><rect x="969" y="325" width="1" height="29" fill="#26a69a"/><rect x="972" y="323" width="1" height="7" fill="#ef5350"/><rect x="974" y="311" width="1" height="17" fill="#26a69a"/><rect x="977" y="305" width="1" height="14" fill="#ef5350"/><rect x="979" y="261" width="1" height="58" fill="#26a69a"/><rect x="982" y="261" width="1" height="20" fill="#ef5350"/><rect x="984" y="261" width="1" height="18" fill="#26a69a"/><rect x="987" y="234" width="1" height="37" fill="#26a69a"/><rect x="990" y="220" width="1" height="26" fill="#26a69a"/><rect x="992" y="201" width="1" height="23" fill="#26a69a"/><rect x="995" y="215" width="1" height="15" fill="#ef5350"/><rect x="998" y="218" width="1" height="20" fill="#ef5350"/><rect x="1000" y="209" width="1" height="23" fill="#26a69a"/><rect x="1003" y="205" width="1" height="19" fill="#26a69a"/><rect x="1006" y="189" width="1" height="31" fill="#26a69a"/><rect x="1008" y="191" width="1" height="31" fill="#ef5350"/><rect x="1011" y="201" width="1" height="25" fill="#ef5350"/><rect x="1014" y="205" width="1" height="10" fill="#26a69a"/><rect x="1016" y="201" width="1" height="14" fill="#26a69a"/><rect x="1019" y="195" width="1" height="18" fill="#26a69a"/><rect x="1022" y="205" width="1" height="15" fill="#ef5350"/><rect x="1024" y="218" width="1" height="16" fill="#ef5350"/><rect x="1027" y="224" width="1" height="18" fill="#ef5350"/><rect x="1030" y="232" width="1" height="18" fill="#ef5350"/><rect x="1032" y="236" width="1" height="20" fill="#ef5350"/><rect x="1035" y="240" width="1" height="16" fill="#26a69a"/><rect x="1038" y="228" width="1" height="24" fill="#26a69a"/><rect x="1040" y="226" width="1" height="14" fill="#ef5350"/><rect x="1042" y="209" width="1" height="27" fill="#26a69a"/><rect x="1045" y="205" width="1" height="17" fill="#ef5350"/><rect x="1048" y="203" width="1" height="23" fill="#26a69a"/><rect x="1051" y="191" width="1" height="27" fill="#26a69a"/><rect x="1053" y="197" width="1" height="8" fill="#ef5350"/><rect x="1056" y="195" width="1" height="12" fill="#26a69a"/><rect x="1058" y="193" width="1" height="12" fill="#26a69a"/><rect x="1061" y="183" width="1" height="14" fill="#26a69a"/><rect x="1064" y="159" width="1" height="26" fill="#26a69a"/><rect x="1066" y="151" width="1" height="16" fill="#26a69a"/><rect x="1069" y="157" width="1" height="12" fill="#ef5350"/><rect x="1071" y="128" width="1" height="39" fill="#26a69a"/><rect x="1074" y="60" width="1" height="121" fill="#ef5350"/><rect x="1077" y="161" width="1" height="28" fill="#ef5350"/><rect x="1079" y="165" width="1" height="16" fill="#26a69a"/><rect x="1082" y="171" width="1" height="6" fill="#26a69a"/><rect x="1085" y="167" width="1" height="26" fill="#ef5350"/><rect x="1087" y="195" width="1" height="20" fill="#ef5350"/><rect x="1090" y="209" width="1" height="9" fill="#ef5350"/><rect x="1093" y="173" width="1" height="51" fill="#26a69a"/><rect x="1095" y="155" width="1" height="20" fill="#26a69a"/><rect x="1098" y="167" width="1" height="16" fill="#ef5350"/><rect x="1101" y="159" width="1" height="22" fill="#26a69a"/><rect x="1103" y="157" width="1" height="14" fill="#26a69a"/><rect x="1106" y="161" width="1" height="10" fill="#ef5350"/><rect x="1108" y="157" width="1" height="10" fill="#26a69a"/><rect x="1111" y="140" width="1" height="17" fill="#26a69a"/><rect x="1114" y="134" width="1" height="17" fill="#26a69a"/><rect x="1116" y="119" width="1" height="17" fill="#26a69a"/><rect x="1119" y="126" width="1" height="12" fill="#ef5350"/><rect x="1122" y="134" width="1" height="8" fill="#ef5350"/><rect x="1124" y="126" width="1" height="18" fill="#ef5350"/><rect x="1127" y="138" width="1" height="32" fill="#ef5350"/></g>
<g><rect x="9.4" y="331" width="2.2" height="29" fill="#ef5350"/><rect x="11.4" y="357" width="2.2" height="22" fill="#ef5350"/><rect x="15.4" y="361" width="2.2" height="31" fill="#26a69a"/><rect x="17.4" y="359" width="2.2" height="16" fill="#ef5350"/><rect x="20.4" y="369" width="2.2" height="5" fill="#26a69a"/><rect x="22.4" y="342" width="2.2" height="24" fill="#26a69a"/><rect x="25.4" y="335" width="2.2" height="7" fill="#26a69a"/><rect x="27.4" y="332" width="2.2" height="8" fill="#26a69a"/><rect x="30.4" y="322" width="2.2" height="12" fill="#26a69a"/><rect x="33.4" y="324" width="2.2" height="14" fill="#ef5350"/><rect x="35.4" y="333" width="2.2" height="5" fill="#ef5350"/><rect x="39.4" y="329" width="2.2" height="7" fill="#26a69a"/><rect x="41.4" y="330" width="2.2" height="6" fill="#ef5350"/><rect x="44.4" y="335" width="2.2" height="12" fill="#ef5350"/><rect x="46.4" y="340" width="2.2" height="13" fill="#26a69a"/><rect x="48.4" y="322" width="2.2" height="16" fill="#26a69a"/><rect x="51.4" y="318" width="2.2" height="18" fill="#ef5350"/><rect x="54.4" y="333" width="2.2" height="9" fill="#ef5350"/><rect x="56.4" y="335" width="2.2" height="7" fill="#26a69a"/><rect x="59.4" y="335" width="2.2" height="5" fill="#ef5350"/><rect x="61.4" y="335" width="2.2" height="3" fill="#ef5350"/><rect x="64.4" y="320" width="2.2" height="14" fill="#26a69a"/><rect x="67.4" y="314" width="2.2" height="48" fill="#ef5350"/><rect x="70.4" y="361" width="2.2" height="14" fill="#ef5350"/><rect x="72.4" y="353" width="2.2" height="20" fill="#26a69a"/><rect x="75.4" y="333" width="2.2" height="16" fill="#26a69a"/><rect x="79.4" y="335" width="2.2" height="14" fill="#ef5350"/><rect x="81.4" y="343" width="2.2" height="8" fill="#ef5350"/><rect x="83.4" y="347" width="2.2" height="7" fill="#ef5350"/><rect x="85.4" y="342" width="2.2" height="13" fill="#26a69a"/><rect x="88.4" y="344" width="2.2" height="16" fill="#ef5350"/><rect x="91.4" y="357" width="2.2" height="7" fill="#26a69a"/><rect x="94.4" y="348" width="2.2" height="12" fill="#ef5350"/><rect x="96.4" y="358" width="2.2" height="5" fill="#ef5350"/><rect x="98.4" y="360" width="2.2" height="5" fill="#ef5350"/><rect x="101.4" y="357" width="2.2" height="20" fill="#ef5350"/><rect x="105.4" y="376" width="2.2" height="18" fill="#26a69a"/><rect x="107.4" y="374" width="2.2" height="5" fill="#ef5350"/><rect x="109.4" y="375" width="2.2" height="39" fill="#ef5350"/><rect x="112.4" y="418" width="2.2" height="24" fill="#ef5350"/><rect x="115.4" y="437" width="2.2" height="3" fill="#26a69a"/><rect x="117.4" y="430" width="2.2" height="14" fill="#26a69a"/><rect x="120.4" y="437" width="2.2" height="6" fill="#ef5350"/><rect x="122.4" y="437" width="2.2" height="14" fill="#ef5350"/><rect x="125.4" y="437" width="2.2" height="28" fill="#26a69a"/><rect x="128.4" y="444" width="2.2" height="30" fill="#ef5350"/><rect x="130.4" y="468" width="2.2" height="6" fill="#ef5350"/><rect x="133.4" y="456" width="2.2" height="10" fill="#26a69a"/><rect x="135.4" y="466" width="2.2" height="2" fill="#26a69a"/><rect x="138.4" y="465" width="2.2" height="15" fill="#ef5350"/><rect x="141.4" y="461" width="2.2" height="29" fill="#26a69a"/><rect x="143.4" y="443" width="2.2" height="17" fill="#26a69a"/><rect x="146.4" y="445" width="2.2" height="12" fill="#ef5350"/><rect x="149.4" y="457" width="2.2" height="2" fill="#ef5350"/><rect x="152.4" y="441" width="2.2" height="20" fill="#26a69a"/><rect x="154.4" y="427" width="2.2" height="13" fill="#26a69a"/><rect x="157.4" y="416" width="2.2" height="8" fill="#26a69a"/><rect x="159.4" y="409" width="2.2" height="11" fill="#26a69a"/><rect x="162.4" y="397" width="2.2" height="21" fill="#ef5350"/><rect x="165.4" y="412" width="2.2" height="10" fill="#26a69a"/><rect x="167.4" y="393" width="2.2" height="21" fill="#26a69a"/><rect x="169.4" y="391" width="2.2" height="15" fill="#ef5350"/><rect x="173.4" y="395" width="2.2" height="17" fill="#26a69a"/><rect x="175.4" y="386" width="2.2" height="9" fill="#26a69a"/><rect x="178.4" y="379" width="2.2" height="14" fill="#ef5350"/><rect x="180.4" y="387" width="2.2" height="8" fill="#ef5350"/><rect x="183.4" y="383" width="2.2" height="7" fill="#26a69a"/><rect x="186.4" y="384" width="2.2" height="18" fill="#ef5350"/><rect x="189.4" y="401" width="2.2" height="5" fill="#ef5350"/><rect x="191.4" y="408" width="2.2" height="8" fill="#ef5350"/><rect x="194.4" y="417" width="2.2" height="5" fill="#ef5350"/><rect x="197.4" y="424" width="2.2" height="22" fill="#ef5350"/><rect x="199.4" y="433" width="2.2" height="7" fill="#ef5350"/><rect x="201.4" y="428" width="2.2" height="15" fill="#26a69a"/><rect x="204.4" y="426" width="2.2" height="5" fill="#26a69a"/><rect x="207.4" y="418" width="2.2" height="8" fill="#26a69a"/><rect x="209.4" y="424" width="2.2" height="16" fill="#ef5350"/><rect x="212.4" y="436" width="2.2" height="18" fill="#ef5350"/><rect x="215.4" y="442" width="2.2" height="11" fill="#ef5350"/><rect x="218.4" y="455" width="2.2" height="9" fill="#ef5350"/><rect x="220.4" y="466" width="2.2" height="16" fill="#ef5350"/><rect x="223.4" y="464" width="2.2" height="12" fill="#26a69a"/><rect x="225.4" y="463" width="2.2" height="6" fill="#26a69a"/><rect x="228.4" y="455" width="2.2" height="16" fill="#ef5350"/><rect x="231.4" y="460" width="2.2" height="19" fill="#26a69a"/><rect x="233.4" y="453" width="2.2" height="15" fill="#ef5350"/><rect x="236.4" y="457" width="2.2" height="7" fill="#ef5350"/><rect x="238.4" y="446" width="2.2" height="16" fill="#26a69a"/><rect x="241.4" y="450" width="2.2" height="21" fill="#ef5350"/><rect x="244.4" y="474" width="2.2" height="3" fill="#ef5350"/><rect x="247.4" y="480" width="2.2" height="29" fill="#ef5350"/><rect x="249.4" y="496" width="2.2" height="19" fill="#26a69a"/><rect x="252.4" y="497" width="2.2" height="10" fill="#26a69a"/><rect x="255.4" y="496" width="2.2" height="14" fill="#ef5350"/><rect x="257.4" y="490" width="2.2" height="22" fill="#26a69a"/><rect x="259.4" y="492" width="2.2" height="18" fill="#ef5350"/><rect x="262.4" y="503" width="2.2" height="24" fill="#ef5350"/><rect x="265.4" y="526" width="2.2" height="18" fill="#ef5350"/><rect x="267.4" y="531" width="2.2" height="7" fill="#ef5350"/><rect x="270.4" y="513" width="2.2" height="36" fill="#26a69a"/><rect x="273.4" y="511" width="2.2" height="14" fill="#26a69a"/><rect x="276.4" y="509" width="2.2" height="3" fill="#26a69a"/><rect x="278.4" y="477" width="2.2" height="33" fill="#26a69a"/><rect x="280.4" y="452" width="2.2" height="24" fill="#26a69a"/><rect x="283.4" y="454" width="2.2" height="17" fill="#ef5350"/><rect x="285.4" y="457" width="2.2" height="6" fill="#ef5350"/><rect x="289.4" y="466" width="2.2" height="14" fill="#ef5350"/><rect x="291.4" y="481" width="2.2" height="22" fill="#ef5350"/><rect x="294.4" y="494" width="2.2" height="13" fill="#ef5350"/><rect x="296.4" y="501" width="2.2" height="7" fill="#26a69a"/><rect x="299.4" y="496" width="2.2" height="11" fill="#ef5350"/><rect x="302.4" y="503" width="2.2" height="24" fill="#ef5350"/><rect x="305.4" y="507" width="2.2" height="18" fill="#26a69a"/><rect x="307.4" y="514" width="2.2" height="7" fill="#ef5350"/><rect x="310.4" y="520" width="2.2" height="18" fill="#ef5350"/><rect x="313.4" y="520" width="2.2" height="20" fill="#ef5350"/><rect x="315.4" y="518" width="2.2" height="31" fill="#26a69a"/><rect x="318.4" y="505" width="2.2" height="15" fill="#ef5350"/><rect x="320.4" y="513" width="2.2" height="10" fill="#26a69a"/><rect x="323.4" y="500" width="2.2" height="18" fill="#26a69a"/><rect x="326.4" y="507" width="2.2" height="18" fill="#ef5350"/><rect x="328.4" y="511" width="2.2" height="16" fill="#ef5350"/><rect x="331.4" y="526" width="2.2" height="10" fill="#ef5350"/><rect x="334.4" y="520" width="2.2" height="16" fill="#26a69a"/><rect x="336.4" y="531" width="2.2" height="5" fill="#ef5350"/><rect x="339.4" y="533" width="2.2" height="16" fill="#ef5350"/><rect x="341.4" y="496" width="2.2" height="42" fill="#26a69a"/><rect x="343.4" y="496" width="2.2" height="6" fill="#ef5350"/><rect x="347.4" y="465" width="2.2" height="40" fill="#26a69a"/><rect x="349.4" y="462" width="2.2" height="8" fill="#ef5350"/><rect x="352.4" y="427" width="2.2" height="40" fill="#26a69a"/><rect x="354.4" y="411" width="2.2" height="18" fill="#26a69a"/><rect x="357.4" y="408" width="2.2" height="13" fill="#26a69a"/><rect x="360.4" y="400" width="2.2" height="10" fill="#26a69a"/><rect x="363.4" y="400" width="2.2" height="13" fill="#ef5350"/><rect x="365.4" y="408" width="2.2" height="10" fill="#ef5350"/><rect x="367.4" y="416" width="2.2" height="10" fill="#ef5350"/><rect x="370.4" y="430" width="2.2" height="10" fill="#ef5350"/><rect x="373.4" y="431" width="2.2" height="7" fill="#26a69a"/><rect x="375.4" y="427" width="2.2" height="18" fill="#26a69a"/><rect x="378.4" y="426" width="2.2" height="4" fill="#26a69a"/><rect x="381.4" y="422" width="2.2" height="10" fill="#ef5350"/><rect x="383.4" y="422" width="2.2" height="13" fill="#ef5350"/><rect x="386.4" y="419" width="2.2" height="13" fill="#26a69a"/><rect x="388.4" y="413" width="2.2" height="13" fill="#26a69a"/><rect x="391.4" y="382" width="2.2" height="28" fill="#26a69a"/><rect x="394.4" y="382" width="2.2" height="9" fill="#ef5350"/><rect x="396.4" y="378" width="2.2" height="32" fill="#ef5350"/><rect x="399.4" y="397" width="2.2" height="10" fill="#26a69a"/><rect x="402.4" y="395" width="2.2" height="7" fill="#26a69a"/><rect x="405.4" y="389" width="2.2" height="8" fill="#26a69a"/><rect x="407.4" y="381" width="2.2" height="10" fill="#26a69a"/><rect x="410.4" y="378" width="2.2" height="10" fill="#ef5350"/><rect x="413.4" y="363" width="2.2" height="34" fill="#26a69a"/><rect x="415.4" y="373" width="2.2" height="13" fill="#ef5350"/><rect x="418.4" y="384" width="2.2" height="19" fill="#ef5350"/><rect x="420.4" y="394" width="2.2" height="8" fill="#26a69a"/><rect x="423.4" y="391" width="2.2" height="4" fill="#ef5350"/><rect x="425.4" y="367" width="2.2" height="24" fill="#26a69a"/><rect x="428.4" y="364" width="2.2" height="6" fill="#ef5350"/><rect x="431.4" y="367" width="2.2" height="24" fill="#ef5350"/><rect x="433.4" y="375" width="2.2" height="13" fill="#26a69a"/><rect x="436.4" y="355" width="2.2" height="23" fill="#26a69a"/><rect x="438.4" y="370" width="2.2" height="8" fill="#ef5350"/><rect x="441.4" y="365" width="2.2" height="10" fill="#26a69a"/><rect x="444.4" y="354" width="2.2" height="13" fill="#26a69a"/><rect x="447.4" y="343" width="2.2" height="16" fill="#26a69a"/><rect x="449.4" y="325" width="2.2" height="18" fill="#26a69a"/><rect x="452.4" y="334" width="2.2" height="18" fill="#ef5350"/><rect x="454.4" y="321" width="2.2" height="29" fill="#26a69a"/><rect x="457.4" y="317" width="2.2" height="5" fill="#26a69a"/><rect x="460.4" y="311" width="2.2" height="5" fill="#26a69a"/><rect x="462.4" y="306" width="2.2" height="11" fill="#ef5350"/><rect x="465.4" y="295" width="2.2" height="18" fill="#26a69a"/><rect x="467.4" y="273" width="2.2" height="20" fill="#26a69a"/><rect x="470.4" y="267" width="2.2" height="9" fill="#ef5350"/><rect x="473.4" y="278" width="2.2" height="9" fill="#ef5350"/><rect x="475.4" y="270" width="2.2" height="21" fill="#ef5350"/><rect x="478.4" y="263" width="2.2" height="24" fill="#26a69a"/><rect x="480.4" y="260" width="2.2" height="12" fill="#ef5350"/><rect x="483.4" y="260" width="2.2" height="16" fill="#26a69a"/><rect x="486.4" y="255" width="2.2" height="10" fill="#26a69a"/><rect x="488.4" y="250" width="2.2" height="17" fill="#26a69a"/><rect x="491.4" y="249" width="2.2" height="14" fill="#ef5350"/><rect x="494.4" y="262" width="2.2" height="8" fill="#ef5350"/><rect x="497.4" y="263" width="2.2" height="7" fill="#ef5350"/><rect x="499.4" y="265" width="2.2" height="22" fill="#26a69a"/><rect x="501.4" y="243" width="2.2" height="22" fill="#26a69a"/><rect x="504.4" y="239" width="2.2" height="37" fill="#ef5350"/><rect x="507.4" y="282" width="2.2" height="40" fill="#ef5350"/><rect x="509.4" y="310" width="2.2" height="12" fill="#26a69a"/><rect x="512.4" y="308" width="2.2" height="11" fill="#26a69a"/><rect x="515.4" y="310" width="2.2" height="7" fill="#26a69a"/><rect x="518.4" y="304" width="2.2" height="20" fill="#ef5350"/><rect x="520.4" y="319" width="2.2" height="11" fill="#26a69a"/><rect x="523.4" y="325" width="2.2" height="10" fill="#ef5350"/><rect x="525.4" y="321" width="2.2" height="16" fill="#26a69a"/><rect x="528.4" y="334" width="2.2" height="18" fill="#ef5350"/><rect x="531.4" y="345" width="2.2" height="9" fill="#26a69a"/><rect x="533.4" y="346" width="2.2" height="17" fill="#26a69a"/><rect x="536.4" y="342" width="2.2" height="5" fill="#26a69a"/><rect x="539.4" y="345" width="2.2" height="8" fill="#ef5350"/><rect x="541.4" y="343" width="2.2" height="14" fill="#ef5350"/><rect x="544.4" y="355" width="2.2" height="10" fill="#ef5350"/><rect x="547.4" y="358" width="2.2" height="13" fill="#ef5350"/><rect x="549.4" y="362" width="2.2" height="12" fill="#26a69a"/><rect x="552.4" y="349" width="2.2" height="25" fill="#26a69a"/><rect x="555.4" y="345" width="2.2" height="13" fill="#26a69a"/><rect x="558.4" y="348" width="2.2" height="5" fill="#ef5350"/><rect x="560.4" y="332" width="2.2" height="18" fill="#26a69a"/><rect x="563.4" y="332" width="2.2" height="7" fill="#ef5350"/><rect x="565.4" y="343" width="2.2" height="26" fill="#ef5350"/><rect x="567.4" y="359" width="2.2" height="14" fill="#26a69a"/><rect x="570.4" y="353" width="2.2" height="12" fill="#26a69a"/><rect x="573.4" y="320" width="2.2" height="33" fill="#26a69a"/><rect x="575.4" y="282" width="2.2" height="36" fill="#26a69a"/><rect x="578.4" y="282" width="2.2" height="10" fill="#ef5350"/><rect x="581.4" y="276" width="2.2" height="24" fill="#26a69a"/><rect x="583.4" y="259" width="2.2" height="23" fill="#26a69a"/><rect x="586.4" y="213" width="2.2" height="58" fill="#26a69a"/><rect x="589.4" y="193" width="2.2" height="35" fill="#ef5350"/><rect x="591.4" y="216" width="2.2" height="39" fill="#ef5350"/><rect x="594.4" y="221" width="2.2" height="35" fill="#26a69a"/><rect x="597.4" y="198" width="2.2" height="30" fill="#26a69a"/><rect x="599.4" y="198" width="2.2" height="21" fill="#ef5350"/><rect x="602.4" y="221" width="2.2" height="26" fill="#ef5350"/><rect x="604.4" y="224" width="2.2" height="18" fill="#26a69a"/><rect x="607.4" y="225" width="2.2" height="9" fill="#ef5350"/><rect x="609.4" y="216" width="2.2" height="21" fill="#26a69a"/><rect x="613.4" y="213" width="2.2" height="12" fill="#ef5350"/><rect x="615.4" y="209" width="2.2" height="32" fill="#26a69a"/><rect x="618.4" y="179" width="2.2" height="38" fill="#26a69a"/><rect x="621.4" y="172" width="2.2" height="15" fill="#26a69a"/><rect x="623.4" y="181" width="2.2" height="8" fill="#ef5350"/><rect x="625.4" y="194" width="2.2" height="17" fill="#ef5350"/><rect x="628.4" y="194" width="2.2" height="12" fill="#26a69a"/><rect x="631.4" y="175" width="2.2" height="17" fill="#26a69a"/><rect x="633.4" y="157" width="2.2" height="26" fill="#26a69a"/><rect x="636.4" y="158" width="2.2" height="34" fill="#ef5350"/><rect x="639.4" y="194" width="2.2" height="19" fill="#ef5350"/><rect x="641.4" y="192" width="2.2" height="11" fill="#26a69a"/><rect x="644.4" y="196" width="2.2" height="28" fill="#ef5350"/><rect x="646.4" y="190" width="2.2" height="13" fill="#26a69a"/><rect x="649.4" y="197" width="2.2" height="25" fill="#ef5350"/><rect x="652.4" y="207" width="2.2" height="11" fill="#26a69a"/><rect x="655.4" y="198" width="2.2" height="20" fill="#26a69a"/><rect x="657.4" y="193" width="2.2" height="17" fill="#ef5350"/><rect x="660.4" y="198" width="2.2" height="20" fill="#ef5350"/><rect x="663.4" y="207" width="2.2" height="11" fill="#26a69a"/><rect x="665.4" y="196" width="2.2" height="21" fill="#ef5350"/><rect x="668.4" y="184" width="2.2" height="29" fill="#26a69a"/><rect x="670.4" y="165" width="2.2" height="17" fill="#26a69a"/><rect x="673.4" y="140" width="2.2" height="19" fill="#26a69a"/><rect x="675.4" y="153" width="2.2" height="42" fill="#ef5350"/><rect x="678.4" y="174" width="2.2" height="8" fill="#26a69a"/><rect x="681.4" y="167" width="2.2" height="9" fill="#26a69a"/><rect x="683.4" y="157" width="2.2" height="19" fill="#ef5350"/><rect x="686.4" y="163" width="2.2" height="20" fill="#ef5350"/><rect x="689.4" y="181" width="2.2" height="13" fill="#ef5350"/><rect x="691.4" y="180" width="2.2" height="8" fill="#26a69a"/><rect x="694.4" y="185" width="2.2" height="21" fill="#ef5350"/><rect x="697.4" y="208" width="2.2" height="11" fill="#ef5350"/><rect x="699.4" y="213" width="2.2" height="27" fill="#ef5350"/><rect x="702.4" y="216" width="2.2" height="21" fill="#26a69a"/><rect x="705.4" y="217" width="2.2" height="7" fill="#ef5350"/><rect x="707.4" y="219" width="2.2" height="17" fill="#26a69a"/><rect x="710.4" y="216" width="2.2" height="20" fill="#ef5350"/><rect x="712.4" y="234" width="2.2" height="18" fill="#ef5350"/><rect x="715.4" y="242" width="2.2" height="12" fill="#26a69a"/><rect x="718.4" y="247" width="2.2" height="5" fill="#ef5350"/><rect x="720.4" y="235" width="2.2" height="22" fill="#26a69a"/><rect x="723.4" y="225" width="2.2" height="13" fill="#26a69a"/><rect x="725.4" y="217" width="2.2" height="22" fill="#26a69a"/><rect x="728.4" y="217" width="2.2" height="27" fill="#ef5350"/><rect x="731.4" y="235" width="2.2" height="17" fill="#26a69a"/><rect x="733.4" y="231" width="2.2" height="7" fill="#26a69a"/><rect x="736.4" y="229" width="2.2" height="23" fill="#ef5350"/><rect x="739.4" y="229" width="2.2" height="23" fill="#26a69a"/><rect x="742.4" y="227" width="2.2" height="9" fill="#ef5350"/><rect x="744.4" y="229" width="2.2" height="13" fill="#ef5350"/><rect x="747.4" y="229" width="2.2" height="21" fill="#ef5350"/><rect x="750.4" y="239" width="2.2" height="11" fill="#ef5350"/><rect x="752.4" y="239" width="2.2" height="26" fill="#26a69a"/><rect x="755.4" y="231" width="2.2" height="8" fill="#ef5350"/><rect x="757.4" y="239" width="2.2" height="6" fill="#ef5350"/><rect x="760.4" y="247" width="2.2" height="8" fill="#ef5350"/><rect x="763.4" y="257" width="2.2" height="8" fill="#ef5350"/><rect x="765.4" y="261" width="2.2" height="15" fill="#ef5350"/><rect x="767.4" y="260" width="2.2" height="18" fill="#26a69a"/><rect x="771.4" y="263" width="2.2" height="7" fill="#26a69a"/><rect x="773.4" y="265" width="2.2" height="13" fill="#ef5350"/><rect x="775.4" y="276" width="2.2" height="9" fill="#ef5350"/><rect x="778.4" y="281" width="2.2" height="13" fill="#26a69a"/><rect x="781.4" y="274" width="2.2" height="7" fill="#26a69a"/><rect x="783.4" y="265" width="2.2" height="16" fill="#26a69a"/><rect x="786.4" y="265" width="2.2" height="4" fill="#26a69a"/><rect x="788.4" y="261" width="2.2" height="14" fill="#ef5350"/><rect x="791.4" y="268" width="2.2" height="17" fill="#ef5350"/><rect x="794.4" y="263" width="2.2" height="15" fill="#26a69a"/><rect x="797.4" y="269" width="2.2" height="7" fill="#ef5350"/><rect x="799.4" y="258" width="2.2" height="7" fill="#26a69a"/><rect x="802.4" y="240" width="2.2" height="19" fill="#26a69a"/><rect x="804.4" y="234" width="2.2" height="6" fill="#26a69a"/><rect x="807.4" y="235" width="2.2" height="11" fill="#ef5350"/><rect x="810.4" y="239" width="2.2" height="8" fill="#ef5350"/><rect x="813.4" y="216" width="2.2" height="21" fill="#26a69a"/><rect x="815.4" y="219" width="2.2" height="1" fill="#ef5350"/><rect x="818.4" y="214" width="2.2" height="10" fill="#ef5350"/><rect x="820.4" y="226" width="2.2" height="7" fill="#ef5350"/><rect x="823.4" y="231" width="2.2" height="6" fill="#ef5350"/><rect x="826.4" y="230" width="2.2" height="9" fill="#26a69a"/><rect x="829.4" y="221" width="2.2" height="10" fill="#26a69a"/><rect x="831.4" y="219" width="2.2" height="28" fill="#ef5350"/><rect x="834.4" y="234" width="2.2" height="13" fill="#26a69a"/><rect x="836.4" y="227" width="2.2" height="9" fill="#26a69a"/><rect x="839.4" y="234" width="2.2" height="13" fill="#ef5350"/><rect x="842.4" y="243" width="2.2" height="14" fill="#ef5350"/><rect x="844.4" y="254" width="2.2" height="7" fill="#ef5350"/><rect x="847.4" y="252" width="2.2" height="11" fill="#26a69a"/><rect x="850.4" y="252" width="2.2" height="8" fill="#ef5350"/><rect x="852.4" y="259" width="2.2" height="7" fill="#ef5350"/><rect x="855.4" y="266" width="2.2" height="10" fill="#ef5350"/><rect x="858.4" y="269" width="2.2" height="7" fill="#ef5350"/><rect x="860.4" y="275" width="2.2" height="4" fill="#26a69a"/><rect x="863.4" y="279" width="2.2" height="8" fill="#ef5350"/><rect x="865.4" y="283" width="2.2" height="8" fill="#ef5350"/><rect x="868.4" y="289" width="2.2" height="8" fill="#ef5350"/><rect x="870.4" y="292" width="2.2" height="8" fill="#ef5350"/><rect x="873.4" y="297" width="2.2" height="4" fill="#26a69a"/><rect x="875.4" y="295" width="2.2" height="7" fill="#26a69a"/><rect x="878.4" y="290" width="2.2" height="7" fill="#26a69a"/><rect x="881.4" y="276" width="2.2" height="14" fill="#26a69a"/><rect x="883.4" y="272" width="2.2" height="7" fill="#26a69a"/><rect x="886.4" y="276" width="2.2" height="2" fill="#ef5350"/><rect x="889.4" y="269" width="2.2" height="8" fill="#26a69a"/><rect x="891.4" y="259" width="2.2" height="11" fill="#26a69a"/><rect x="894.4" y="248" width="2.2" height="8" fill="#26a69a"/><rect x="897.4" y="248" width="2.2" height="4" fill="#ef5350"/><rect x="899.4" y="245" width="2.2" height="10" fill="#26a69a"/><rect x="902.4" y="250" width="2.2" height="4" fill="#ef5350"/><rect x="905.4" y="257" width="2.2" height="9" fill="#ef5350"/><rect x="907.4" y="267" width="2.2" height="8" fill="#ef5350"/><rect x="910.4" y="271" width="2.2" height="4" fill="#26a69a"/><rect x="913.4" y="265" width="2.2" height="6" fill="#ef5350"/><rect x="915.4" y="265" width="2.2" height="8" fill="#26a69a"/><rect x="918.4" y="273" width="2.2" height="4" fill="#ef5350"/><rect x="921.4" y="279" width="2.2" height="4" fill="#ef5350"/><rect x="923.4" y="283" width="2.2" height="4" fill="#26a69a"/><rect x="926.4" y="268" width="2.2" height="12" fill="#26a69a"/><rect x="928.4" y="263" width="2.2" height="6" fill="#26a69a"/><rect x="931.4" y="254" width="2.2" height="7" fill="#ef5350"/><rect x="934.4" y="251" width="2.2" height="13" fill="#ef5350"/><rect x="936.4" y="266" width="2.2" height="8" fill="#ef5350"/><rect x="939.4" y="268" width="2.2" height="4" fill="#26a69a"/><rect x="942.4" y="272" width="2.2" height="4" fill="#ef5350"/><rect x="944.4" y="280" width="2.2" height="8" fill="#ef5350"/><rect x="947.4" y="292" width="2.2" height="18" fill="#ef5350"/><rect x="949.4" y="310" width="2.2" height="17" fill="#ef5350"/><rect x="952.4" y="312" width="2.2" height="25" fill="#ef5350"/><rect x="955.4" y="341" width="2.2" height="14" fill="#ef5350"/><rect x="958.4" y="355" width="2.2" height="10" fill="#ef5350"/><rect x="960.4" y="358" width="2.2" height="6" fill="#ef5350"/><rect x="963.4" y="360" width="2.2" height="4" fill="#ef5350"/><rect x="965.4" y="355" width="2.2" height="14" fill="#26a69a"/><rect x="968.4" y="328" width="2.2" height="23" fill="#26a69a"/><rect x="971.4" y="324" width="2.2" height="5" fill="#ef5350"/><rect x="973.4" y="314" width="2.2" height="11" fill="#26a69a"/><rect x="976.4" y="308" width="2.2" height="8" fill="#ef5350"/><rect x="978.4" y="264" width="2.2" height="52" fill="#26a69a"/><rect x="981.4" y="264" width="2.2" height="14" fill="#ef5350"/><rect x="983.4" y="264" width="2.2" height="12" fill="#26a69a"/><rect x="986.4" y="237" width="2.2" height="31" fill="#26a69a"/><rect x="989.4" y="223" width="2.2" height="20" fill="#26a69a"/><rect x="991.4" y="204" width="2.2" height="17" fill="#26a69a"/><rect x="994.4" y="218" width="2.2" height="9" fill="#ef5350"/><rect x="997.4" y="221" width="2.2" height="14" fill="#ef5350"/><rect x="999.4" y="212" width="2.2" height="17" fill="#26a69a"/><rect x="1002.4" y="208" width="2.2" height="13" fill="#26a69a"/><rect x="1005.4" y="192" width="2.2" height="25" fill="#26a69a"/><rect x="1007.4" y="194" width="2.2" height="25" fill="#ef5350"/><rect x="1010.4" y="204" width="2.2" height="19" fill="#ef5350"/><rect x="1013.4" y="207" width="2.2" height="6" fill="#26a69a"/><rect x="1015.4" y="204" width="2.2" height="8" fill="#26a69a"/><rect x="1018.4" y="198" width="2.2" height="12" fill="#26a69a"/><rect x="1021.4" y="208" width="2.2" height="9" fill="#ef5350"/><rect x="1023.4" y="221" width="2.2" height="10" fill="#ef5350"/><rect x="1026.4" y="227" width="2.2" height="12" fill="#ef5350"/><rect x="1029.4" y="235" width="2.2" height="12" fill="#ef5350"/><rect x="1031.4" y="239" width="2.2" height="14" fill="#ef5350"/><rect x="1034.4" y="243" width="2.2" height="10" fill="#26a69a"/><rect x="1037.4" y="231" width="2.2" height="18" fill="#26a69a"/><rect x="1039.4" y="229" width="2.2" height="8" fill="#ef5350"/><rect x="1041.4" y="212" width="2.2" height="21" fill="#26a69a"/><rect x="1044.4" y="208" width="2.2" height="11" fill="#ef5350"/><rect x="1047.4" y="206" width="2.2" height="17" fill="#26a69a"/><rect x="1050.4" y="194" width="2.2" height="21" fill="#26a69a"/><rect x="1052.4" y="199" width="2.2" height="4" fill="#ef5350"/><rect x="1055.4" y="197" width="2.2" height="8" fill="#26a69a"/><rect x="1057.4" y="195" width="2.2" height="8" fill="#26a69a"/><rect x="1060.4" y="186" width="2.2" height="8" fill="#26a69a"/><rect x="1063.4" y="162" width="2.2" height="20" fill="#26a69a"/><rect x="1065.4" y="154" width="2.2" height="10" fill="#26a69a"/><rect x="1068.4" y="159" width="2.2" height="8" fill="#ef5350"/><rect x="1070.4" y="131" width="2.2" height="33" fill="#26a69a"/><rect x="1073.4" y="130" width="2.2" height="50" fill="#ef5350"/><rect x="1076.4" y="164" width="2.2" height="22" fill="#ef5350"/><rect x="1078.4" y="168" width="2.2" height="10" fill="#26a69a"/><rect x="1081.4" y="172" width="2.2" height="4" fill="#26a69a"/><rect x="1084.4" y="170" width="2.2" height="20" fill="#ef5350"/><rect x="1086.4" y="198" width="2.2" height="14" fill="#ef5350"/><rect x="1089.4" y="211" width="2.2" height="5" fill="#ef5350"/><rect x="1092.4" y="176" width="2.2" height="45" fill="#26a69a"/><rect x="1094.4" y="158" width="2.2" height="14" fill="#26a69a"/><rect x="1097.4" y="170" width="2.2" height="10" fill="#ef5350"/><rect x="1100.4" y="162" width="2.2" height="16" fill="#26a69a"/><rect x="1102.4" y="160" width="2.2" height="8" fill="#26a69a"/><rect x="1105.4" y="163" width="2.2" height="6" fill="#ef5350"/><rect x="1107.4" y="159" width="2.2" height="6" fill="#26a69a"/><rect x="1110.4" y="143" width="2.2" height="11" fill="#26a69a"/><rect x="1113.4" y="137" width="2.2" height="11" fill="#26a69a"/><rect x="1115.4" y="122" width="2.2" height="11" fill="#26a69a"/><rect x="1118.4" y="128" width="2.2" height="8" fill="#ef5350"/><rect x="1121.4" y="136" width="2.2" height="4" fill="#ef5350"/><rect x="1123.4" y="129" width="2.2" height="12" fill="#ef5350"/><rect x="1126.4" y="141" width="2.2" height="26" fill="#ef5350"/></g>
<g font-size="10.6" fill="#b2b5be"><text x="1369.4" y="55.3" textLength="42.3" lengthAdjust="spacingAndGlyphs">2160.000</text><text x="1369.4" y="92.2" textLength="42.3" lengthAdjust="spacingAndGlyphs">2120.000</text><text x="1369.4" y="129.0" textLength="42.3" lengthAdjust="spacingAndGlyphs">2080.000</text><text x="1369.4" y="165.9" textLength="42.3" lengthAdjust="spacingAndGlyphs">2040.000</text><text x="1369.4" y="202.7" textLength="42.3" lengthAdjust="spacingAndGlyphs">2000.000</text><text x="1369.4" y="239.5" textLength="42.3" lengthAdjust="spacingAndGlyphs">1960.000</text><text x="1369.4" y="276.4" textLength="42.3" lengthAdjust="spacingAndGlyphs">1920.000</text><text x="1369.4" y="313.2" textLength="42.3" lengthAdjust="spacingAndGlyphs">1880.000</text><text x="1369.4" y="350.1" textLength="42.3" lengthAdjust="spacingAndGlyphs">1840.000</text><text x="1369.4" y="386.9" textLength="42.3" lengthAdjust="spacingAndGlyphs">1800.000</text><text x="1369.4" y="423.8" textLength="42.3" lengthAdjust="spacingAndGlyphs">1760.000</text><text x="1369.4" y="460.6" textLength="42.3" lengthAdjust="spacingAndGlyphs">1720.000</text><text x="1369.4" y="497.5" textLength="42.3" lengthAdjust="spacingAndGlyphs">1680.000</text><text x="1369.4" y="534.3" textLength="42.3" lengthAdjust="spacingAndGlyphs">1640.000</text><text x="1369.4" y="571.2" textLength="42.3" lengthAdjust="spacingAndGlyphs">1600.000</text></g>
<rect x="1362" y="52.3" width="54.5" height="15.7" rx="1.5" fill="#ffffff"/>
<text x="1369.4" y="64" font-size="10.6" fill="#131722" textLength="42.3" lengthAdjust="spacingAndGlyphs">2150.700</text>
<rect x="1362" y="367.3" width="54.5" height="15.7" rx="1.5" fill="#ffffff"/>
<text x="1369.4" y="379" font-size="10.6" fill="#131722" textLength="42.3" lengthAdjust="spacingAndGlyphs">1808.526</text>
<rect x="1316" y="161.2" width="100.5" height="15.6" rx="1.5" fill="#ef5350"/>
<line x1="1361.5" y1="161.2" x2="1361.5" y2="176.8" stroke="#c43e3c" stroke-width="1"/>
<text x="1320.5" y="172.9" font-size="10.6" fill="#ffffff" textLength="36.5" lengthAdjust="spacingAndGlyphs">XAUUSD</text>
<text x="1369.4" y="172.9" font-size="10.6" fill="#ffffff" textLength="42.3" lengthAdjust="spacingAndGlyphs">2031.875</text>
<text x="1369.4" y="616.0" font-size="10.6" fill="#b2b5be">75.00</text>
<text x="1369.4" y="644.3" font-size="10.6" fill="#b2b5be">50.00</text>
<text x="1369.4" y="673.1" font-size="10.6" fill="#b2b5be">25.00</text>
<text x="104" y="699.8" font-size="10.6" fill="#b2b5be" text-anchor="middle">Jul</text>
<text x="221" y="699.8" font-size="10.6" fill="#b2b5be" text-anchor="middle">Sep</text>
<text x="335" y="699.8" font-size="10.6" fill="#b2b5be" text-anchor="middle">Nov</text>
<text x="447" y="699.8" font-size="10.6" fill="#b2b5be" text-anchor="middle">2023</text>
<text x="555" y="699.8" font-size="10.6" fill="#b2b5be" text-anchor="middle">Mar</text>
<text x="665.4" y="699.8" font-size="10.6" fill="#b2b5be" text-anchor="middle">May</text>
<text x="784" y="699.8" font-size="10.6" fill="#b2b5be" text-anchor="middle">Jul</text>
<text x="899.4" y="699.8" font-size="10.6" fill="#b2b5be" text-anchor="middle">Sep</text>
<text x="1013" y="699.8" font-size="10.6" fill="#b2b5be" text-anchor="middle">Nov</text>
<text x="1124" y="699.8" font-size="10.6" fill="#b2b5be" text-anchor="middle">2024</text>
<text x="1237" y="699.8" font-size="10.6" fill="#b2b5be" text-anchor="middle">Mar</text>
<text x="1350" y="699.8" font-size="10.6" fill="#b2b5be" text-anchor="middle">May</text>
<clipPath id="os"><rect x="9" y="663.4" width="1352" height="20"/></clipPath>
<polygon points="110.9,663.4 110.9,663.8 113.8,667.7 117.7,666.7 121.6,668.7 125.6,664.8 128.5,669.7 133.4,668.7 137.3,667.3 139.3,670.6 141.2,657.9 141.2,663.4" fill="#f23645" fill-opacity="0.22" clip-path="url(#os)"/>
<polygon points="945.0,663.4 945.0,654.0 947.9,662.8 951.8,667.7 954.8,672.6 957.7,674.6 960.7,675.1 963.6,674.6 966.5,663.8 968.5,649.7 968.5,663.4" fill="#f23645" fill-opacity="0.22" clip-path="url(#os)"/>
<polyline points="9.0,657.9 11.9,662.8 14.9,658.3 17.8,659.9 20.7,658.9 22.7,650.1 26.6,646.1 30.5,641.2 34.5,645.8 38.4,645.2 41.3,643.8 44.2,650.1 49.1,638.3 53.1,646.1 57.0,643.2 60.9,642.2 64.8,636.0 67.8,652.0 70.3,653.6 72.7,647.1 75.6,639.3 79.5,644.2 84.4,644.2 88.3,647.1 92.3,646.1 96.2,648.1 100.1,649.1 104.0,652.0 107.9,651.6 110.9,663.8 113.8,667.7 117.7,666.7 121.6,668.7 125.6,664.8 128.5,669.7 133.4,668.7 137.3,667.3 139.3,670.6 141.2,657.9 145.2,654.0 149.1,656.9 153.0,646.1 156.9,636.4 160.8,634.0 164.8,638.3 168.7,628.5 171.6,634.4 174.5,630.5 178.5,629.5 181.4,630.9 184.3,627.5 186.3,635.4 192.2,644.2 196.1,647.1 200.0,653.0 203.9,646.1 207.9,642.2 211.8,651.0 215.7,655.0 221.6,662.8 223.5,655.0 227.5,655.9 231.4,650.1 235.3,652.0 239.2,645.2 243.1,650.1 247.0,662.8 251.0,658.9 254.9,658.9 258.8,655.9 262.7,659.9 266.6,667.7 269.6,662.8 270.6,651.0 275.5,650.1 281.3,629.5 284.3,632.4 288.0,636.4 290.9,644.2 293.9,647.1 297.8,646.1 301.7,653.0 305.6,650.5 309.6,656.3 312.5,656.3 314.5,646.5 317.4,647.1 321.3,642.2 324.2,641.2 327.2,644.2 330.1,651.0 333.1,646.1 336.0,649.1 338.9,651.0 341.9,634.4 344.8,635.4 346.8,627.5 349.7,628.5 352.7,618.7 356.6,616.4 360.5,616.2 363.4,618.7 366.4,624.6 370.3,630.5 374.2,630.5 378.1,626.6 381.1,627.5 384.0,632.4 387.9,628.5 391.8,617.1 394.8,620.7 396.7,630.5 399.7,629.5 402.6,626.6 407.5,623.6 410.5,630.5 413.4,623.6 415.4,624.6 418.3,635.4 421.2,632.4 424.2,633.4 427.1,626.2 431.0,634.4 435.0,632.4 438.9,632.4 442.8,629.5 446.7,624.6 449.7,620.7 452.6,629.5 454.5,622.6 458.5,620.7 463.4,619.7 468.3,612.4 472.2,615.8 476.1,619.7 479.0,613.8 482.0,616.8 485.9,615.2 489.8,613.2 492.8,621.7 497.7,624.6 501.6,621.7 503.5,618.7 505.5,634.4 508.4,647.1 512.4,646.5 515.3,644.2 518.2,647.7 522.1,647.1 525.1,650.1 528.0,651.0 531.0,655.6 536.8,651.6 540.8,655.0 544.7,657.9 547.6,661.8 551.5,655.0 555.5,647.1 558.4,647.1 561.3,638.3 564.3,642.2 568.0,654.0 571.9,638.3 575.8,622.2 578.8,624.6 581.7,622.2 584.7,620.7 586.6,611.3 589.2,613.8 591.5,626.6 594.5,621.7 597.0,619.1 599.4,622.6 602.3,629.5 605.2,626.6 607.2,628.9 610.1,626.2 613.1,628.5 616.0,624.6 618.9,620.3 621.9,621.1 624.8,626.6 626.8,629.5 629.7,626.2 633.6,620.3 636.6,631.5 639.5,634.0 642.5,632.0 645.4,634.4 647.4,632.4 650.3,638.3 654.2,635.4 658.1,637.3 662.1,637.3 666.0,639.3 667.9,630.5 670.9,624.6 673.8,622.2 675.8,632.4 679.7,629.5 681.6,630.5 685.6,633.4 688.5,636.4 692.4,636.0 695.4,643.2 700.3,652.4 703.2,646.1 707.1,647.1 710.1,650.1 713.0,655.0 716.9,653.0 719.9,652.0 722.8,646.1 725.7,640.7 728.7,649.1 731.6,644.2 734.5,645.2 736.5,651.0 739.4,642.2 742.4,643.2 745.3,644.2 748.3,649.1 751.2,644.2 754.1,643.2 757.1,645.2 761.0,651.0 763.9,653.0 765.9,656.3 769.8,653.0 773.7,655.0 777.7,657.5 781.6,651.0 785.5,649.7 787.5,647.1 790.4,651.0 793.3,646.1 797.2,644.2 800.2,639.3 803.1,630.5 807.0,629.5 811.0,631.5 813.9,623.0 816.8,625.6 820.8,632.4 824.7,635.4 828.6,630.5 831.5,642.2 835.5,636.4 837.4,634.4 840.4,643.2 844.3,647.1 848.0,643.2 851.9,649.1 855.8,654.0 859.8,653.6 863.7,656.9 867.6,660.8 870.5,662.8 873.5,662.2 876.4,657.9 879.4,655.0 881.3,644.2 884.2,643.2 887.2,644.2 890.1,637.3 893.1,629.5 896.0,629.5 898.9,630.5 901.9,630.5 904.8,638.3 907.8,646.1 910.7,644.2 913.6,643.8 915.6,642.2 918.5,647.1 921.5,650.5 923.4,649.1 926.4,639.3 929.3,633.4 932.3,634.4 935.2,635.4 938.1,641.8 940.1,639.9 942.1,643.2 945.0,654.0 947.9,662.8 951.8,667.7 954.8,672.6 957.7,674.6 960.7,675.1 963.6,674.6 966.5,663.8 968.5,649.7 971.4,649.1 974.4,643.2 976.3,644.2 978.3,624.6 981.2,628.5 984.2,627.5 987.1,621.7 990.1,616.8 993.0,615.8 995.9,619.1 998.9,618.7 1002.8,615.2 1005.7,612.8 1008.7,617.7 1011.6,622.6 1014.5,624.6 1018.5,622.6 1020.4,624.6 1023.4,632.4 1026.3,639.3 1029.2,637.3 1032.2,644.2 1035.1,640.3 1038.1,636.0 1041.0,634.4 1043.9,630.5 1047.9,630.5 1050.8,625.6 1053.7,630.1 1057.7,627.5 1061.6,621.7 1064.5,615.8 1067.5,615.2 1069.4,619.1 1071.4,612.4 1073.3,626.6 1076.3,632.4 1080.2,632.4 1082.1,630.5 1085.1,640.3 1089.0,646.1 1091.0,645.2 1092.9,632.4 1095.9,630.5 1098.8,635.4 1102.7,632.4 1106.6,630.5 1110.6,626.6 1116.4,622.6 1119.4,627.5 1124.3,629.5 1126.2,631.5 1128.0,640.3" fill="none" stroke="#7e57c2" stroke-width="1"/>
<path d="M8.0,654.4 C9.0,654.7 11.6,655.8 13.9,656.3 C16.2,656.9 19.1,657.7 21.7,657.5 C24.3,657.3 26.9,655.7 29.6,655.0 C32.2,654.2 34.8,653.8 37.4,653.0 C40.0,652.3 42.6,651.6 45.2,650.5 C47.8,649.3 50.5,647.2 53.1,646.1 C55.7,645.1 58.9,644.6 60.9,644.2 C62.9,643.8 62.9,643.6 64.8,643.8 C66.8,644.0 70.0,645.0 72.7,645.2 C75.3,645.3 77.9,644.7 80.5,644.6 C83.1,644.5 85.7,644.4 88.3,644.6 C90.9,644.7 93.6,645.2 96.2,645.6 C98.8,646.0 102.1,646.7 104.0,646.9 C106.0,647.2 106.0,646.1 107.9,647.1 C109.9,648.1 112.8,651.0 115.8,653.0 C118.7,655.0 122.6,657.2 125.6,658.9 C128.5,660.6 130.8,661.9 133.4,663.2 C136.0,664.5 139.3,666.1 141.2,666.7 C143.2,667.3 143.2,667.3 145.2,666.7 C147.1,666.1 150.4,664.8 153.0,663.2 C155.6,661.6 158.2,658.9 160.8,656.9 C163.4,654.9 166.1,653.5 168.7,651.0 C171.3,648.6 173.9,644.8 176.5,642.2 C179.1,639.6 182.2,636.8 184.3,635.4 C186.5,633.9 187.3,633.6 189.2,633.4 C191.2,633.2 193.7,633.6 196.1,634.4 C198.6,635.1 201.7,636.9 203.9,637.9 C206.2,639.0 207.9,639.5 209.8,640.7 C211.8,641.9 213.7,643.7 215.7,645.2 C217.7,646.7 219.3,648.5 221.6,649.7 C223.9,650.9 226.1,652.0 229.4,652.4 C232.7,652.9 237.9,652.1 241.2,652.4 C244.4,652.8 246.1,654.2 249.0,654.6 C251.9,654.9 255.5,654.2 258.8,654.6 C262.1,655.0 265.7,656.4 268.6,656.9 C271.5,657.4 274.2,658.1 276.4,657.5 C278.7,657.0 280.4,654.8 282.3,653.6 C284.2,652.4 285.7,651.2 288.0,650.1 C290.3,648.9 293.2,647.5 295.8,646.5 C298.5,645.6 301.1,644.8 303.7,644.6 C306.3,644.4 308.6,644.6 311.5,645.2 C314.5,645.8 318.0,647.5 321.3,648.1 C324.6,648.8 328.2,648.9 331.1,649.1 C334.0,649.2 336.3,649.7 338.9,649.1 C341.6,648.4 343.8,647.0 346.8,645.2 C349.7,643.4 353.3,640.8 356.6,638.3 C359.8,635.9 363.1,632.8 366.4,630.5 C369.6,628.2 373.6,625.7 376.2,624.6 C378.8,623.5 379.8,623.9 382.1,624.0 C384.3,624.1 387.6,624.7 389.9,625.0 C392.2,625.2 393.8,625.1 395.8,625.6 C397.7,626.0 399.4,627.4 401.6,627.5 C403.9,627.7 406.9,626.7 409.5,626.6 C412.1,626.4 414.7,626.5 417.3,626.6 C419.9,626.7 422.5,626.7 425.2,627.1 C427.8,627.6 430.4,628.6 433.0,629.1 C435.6,629.6 437.6,629.8 440.8,629.9 C444.1,629.9 448.7,630.1 452.6,629.5 C456.5,628.9 461.1,627.3 464.3,626.2 C467.6,625.0 468.9,623.9 472.2,622.6 C475.4,621.4 480.7,619.6 483.9,618.7 C487.2,617.8 488.8,617.3 491.8,617.1 C494.7,617.0 498.3,616.3 501.6,617.7 C504.8,619.1 507.8,622.8 511.4,625.6 C515.0,628.3 519.5,631.5 523.1,634.4 C526.7,637.3 529.7,640.6 532.9,643.2 C536.2,645.8 539.8,648.4 542.7,650.1 C545.7,651.7 547.9,652.5 550.6,653.0 C553.2,653.5 555.5,653.2 558.4,653.0 C561.3,652.8 565.4,652.5 568.0,652.0 C570.6,651.5 571.6,651.7 573.9,650.1 C576.2,648.4 579.1,644.9 581.7,642.2 C584.3,639.6 586.9,636.1 589.6,634.0 C592.2,631.9 594.5,631.2 597.4,629.5 C600.3,627.8 604.2,624.7 607.2,623.6 C610.1,622.6 612.4,623.2 615.0,623.2 C617.6,623.2 620.3,623.3 622.9,623.6 C625.5,623.9 627.8,624.8 630.7,625.2 C633.6,625.6 637.2,625.6 640.5,626.2 C643.8,626.7 647.0,627.5 650.3,628.5 C653.6,629.6 657.2,631.5 660.1,632.4 C663.0,633.4 665.0,634.2 667.9,634.4 C670.9,634.6 673.5,633.8 677.7,633.6 C682.0,633.4 689.2,633.0 693.4,633.4 C697.6,633.8 700.3,634.8 703.2,636.0 C706.1,637.2 708.1,638.9 711.0,640.7 C714.0,642.4 717.6,645.3 720.8,646.5 C724.1,647.8 727.4,647.9 730.6,648.1 C733.9,648.3 737.5,647.9 740.4,647.7 C743.4,647.6 745.7,647.5 748.3,647.1 C750.9,646.8 753.5,645.6 756.1,645.6 C758.7,645.5 761.0,646.1 763.9,646.7 C766.9,647.3 770.5,648.4 773.7,649.1 C777.0,649.8 780.3,650.5 783.5,651.0 C786.8,651.6 790.7,652.5 793.3,652.6 C795.9,652.7 796.9,652.7 799.2,651.6 C801.5,650.6 804.4,648.0 807.0,646.1 C809.7,644.3 812.3,642.0 814.9,640.3 C817.5,638.6 820.1,637.2 822.7,636.0 C825.3,634.8 828.3,633.7 830.6,633.0 C832.8,632.4 834.5,631.9 836.4,632.0 C838.4,632.2 840.4,633.3 842.3,634.0 C844.2,634.7 845.7,635.0 848.0,636.4 C850.3,637.7 853.2,640.4 855.8,642.2 C858.5,644.0 861.1,645.6 863.7,647.1 C866.3,648.7 869.2,650.4 871.5,651.6 C873.8,652.8 874.8,654.0 877.4,654.4 C880.0,654.8 883.9,655.0 887.2,654.0 C890.5,652.9 893.7,649.9 897.0,648.1 C900.3,646.3 903.7,644.7 906.8,643.2 C909.9,641.7 912.3,639.5 915.6,638.9 C918.9,638.3 923.3,639.6 926.4,639.9 C929.5,640.2 931.6,640.5 934.2,640.9 C936.8,641.2 939.4,641.4 942.1,642.2 C944.7,643.0 947.3,644.4 949.9,645.8 C952.5,647.1 955.1,648.5 957.7,650.5 C960.3,652.4 963.3,655.8 965.6,657.5 C967.9,659.2 969.6,659.8 971.4,660.5 C973.2,661.1 974.7,661.7 976.3,661.2 C978.0,660.8 979.1,659.8 981.2,657.9 C983.4,656.0 986.5,653.3 989.1,650.1 C991.7,646.8 994.3,642.1 996.9,638.3 C999.5,634.6 1002.1,630.5 1004.8,627.5 C1007.4,624.6 1010.3,622.0 1012.6,620.7 C1014.9,619.4 1016.5,619.7 1018.5,619.7 C1020.4,619.7 1022.1,619.7 1024.3,620.7 C1026.6,621.7 1029.6,624.1 1032.2,625.6 C1034.8,627.0 1037.4,628.3 1040.0,629.5 C1042.6,630.6 1045.2,631.7 1047.9,632.4 C1050.5,633.2 1053.7,633.6 1055.7,633.8 C1057.7,634.0 1058.0,634.3 1059.6,633.4 C1061.2,632.5 1063.5,629.8 1065.5,628.5 C1067.5,627.2 1069.7,626.2 1071.4,625.6 C1073.0,624.9 1073.3,624.7 1075.3,624.6 C1077.2,624.5 1080.5,624.6 1083.1,625.2 C1085.7,625.8 1088.7,627.5 1091.0,628.1 C1093.3,628.7 1094.9,628.3 1096.8,628.9 C1098.8,629.5 1100.8,630.5 1102.7,631.5 C1104.7,632.4 1106.3,634.1 1108.6,634.4 C1110.9,634.7 1114.2,633.8 1116.4,633.4 C1118.7,633.0 1120.4,632.6 1122.3,632.0 C1124.2,631.5 1127.1,630.4 1128.0,630.1" fill="none" stroke="#e0cf3a" stroke-width="1"/>
<circle cx="1126.5" cy="591.3" r="8.7" fill="none" stroke="#ab47bc" stroke-width="1.7"/>
<polyline points="1129.0,587.3 1124.6,591.6 1128.2,591.4 1123.8,595.5" fill="none" stroke="#ab47bc" stroke-width="1.7" stroke-linejoin="miter" stroke-linecap="round"/>
<g fill="#d1d4dc"><path d="M8.9,718.4 H15.8 V727 H11.9 V721.9 H8.9 Z"/><circle cx="18.5" cy="720.6" r="1.55"/><path d="M22.2,718.4 H25.9 L23.4,727 H19.1 Z"/></g>
<text x="29.3" y="728" font-size="11.6" fill="#d1d4dc" stroke="#d1d4dc" stroke-width="0.3" textLength="62" lengthAdjust="spacingAndGlyphs">TradingView</text>
<g opacity="0.6"><path d="M1195.4,646.9 L1204.1,646.9 L1204.9,661.5 L1195.4,661.7 L1194.3,660.4 Z M1191.1,663.3 L1200.1,663.3 L1200.7,669.8 L1201.5,675.0 L1190.8,675.0 L1190.2,677.9 L1190.2,664.9 Z M1191.6,681.1 L1201.5,681.1 L1193.8,699.0 L1181.4,699.0 Z M1207.2,658.3 L1208.0,653.1 L1211.3,650.5 L1216.8,647.5 L1225.7,646.4 L1226.2,648.7 L1246.0,648.7 L1244.9,655.2 L1215.2,655.6 L1211.3,658.3 Z M1256.0,647.0 L1304.6,647.0 L1294.3,696.3 L1292.5,700.7 L1268.6,700.7 L1269.9,692.9 L1285.3,692.9 L1293.3,654.2 L1254.5,654.2 Z M1253.4,656.9 L1261.6,656.9 L1260.1,668.3 L1290.8,668.3 L1289.2,675.7 L1250.4,675.7 L1249.1,674.3 Z M1245.8,683.1 L1286.6,683.1 L1284.9,690.3 L1244.0,690.3 Z M1340.1,647.9 L1367.3,647.9 L1358.2,700.0 L1346.6,700.0 L1354.3,660.4 L1337.4,660.4 Z M1342.7,663.6 L1352.2,663.6 L1339.0,700.0 L1327.6,700.0 Z M1383.9,647.5 L1392.4,647.5 L1380.4,662.2 L1371.1,662.2 Z M1386.9,660.1 L1394.7,660.1 L1377.3,678.0 L1387.8,678.0 L1386.1,685.7 L1365.4,685.7 L1367.2,678.0 L1370.2,678.0 Z M1364.1,692.8 L1383.9,692.8 L1382.1,700.0 L1362.1,700.0 Z M1398.2,647.5 L1426.7,647.5 L1424.1,652.3 L1406.3,669.0 L1395.7,669.0 L1411.6,654.5 L1396.2,654.5 Z M1402.8,661.6 L1411.6,661.6 L1421.7,668.0 L1420.4,673.6 L1410.7,673.6 L1399.3,666.4 Z M1389.8,676.5 L1420.2,676.5 L1418.4,683.3 L1407.4,683.3 L1404.7,693.0 L1414.9,693.0 L1413.2,700.0 L1383.9,700.0 L1385.6,693.0 L1397.5,693.0 L1400.1,683.3 L1388.0,683.3 Z M1207.7,659.2 L1242.4,659.2 L1240.7,667.4 L1238.7,675.5 L1236.7,682.0 L1234.2,699.0 L1197.7,699.0 L1200.4,682.1 L1190.0,682.1 L1190.0,674.8 L1202.2,674.8 L1203.0,669.8 Z M1211.6,674.5 L1216.1,674.5 L1218.3,665.9 L1213.4,665.9 Z M1222.5,674.5 L1233.8,674.5 L1235.5,665.9 L1224.5,665.9 Z M1207.2,692.2 L1214.2,692.2 L1216.1,682.5 L1209.1,682.5 Z M1220.7,692.2 L1226.7,692.2 L1228.8,682.5 L1222.6,682.5 Z M1313.3,647.0 L1339.7,647.0 L1330.0,685.7 L1328.3,700.0 L1320.0,700.0 L1314.0,688.2 L1310.7,700.0 L1299.8,700.0 L1303.0,686.2 Z M1311.9,684.0 L1321.9,684.0 L1329.0,656.4 L1319.0,656.4 Z" fill="#000" fill-rule="nonzero" transform="translate(-1.2,1.2)"/></g>
<g opacity="0.55"><path d="M1195.4,646.9 L1204.1,646.9 L1204.9,661.5 L1195.4,661.7 L1194.3,660.4 Z M1191.1,663.3 L1200.1,663.3 L1200.7,669.8 L1201.5,675.0 L1190.8,675.0 L1190.2,677.9 L1190.2,664.9 Z M1191.6,681.1 L1201.5,681.1 L1193.8,699.0 L1181.4,699.0 Z M1207.2,658.3 L1208.0,653.1 L1211.3,650.5 L1216.8,647.5 L1225.7,646.4 L1226.2,648.7 L1246.0,648.7 L1244.9,655.2 L1215.2,655.6 L1211.3,658.3 Z M1256.0,647.0 L1304.6,647.0 L1294.3,696.3 L1292.5,700.7 L1268.6,700.7 L1269.9,692.9 L1285.3,692.9 L1293.3,654.2 L1254.5,654.2 Z M1253.4,656.9 L1261.6,656.9 L1260.1,668.3 L1290.8,668.3 L1289.2,675.7 L1250.4,675.7 L1249.1,674.3 Z M1245.8,683.1 L1286.6,683.1 L1284.9,690.3 L1244.0,690.3 Z M1340.1,647.9 L1367.3,647.9 L1358.2,700.0 L1346.6,700.0 L1354.3,660.4 L1337.4,660.4 Z M1342.7,663.6 L1352.2,663.6 L1339.0,700.0 L1327.6,700.0 Z M1383.9,647.5 L1392.4,647.5 L1380.4,662.2 L1371.1,662.2 Z M1386.9,660.1 L1394.7,660.1 L1377.3,678.0 L1387.8,678.0 L1386.1,685.7 L1365.4,685.7 L1367.2,678.0 L1370.2,678.0 Z M1364.1,692.8 L1383.9,692.8 L1382.1,700.0 L1362.1,700.0 Z M1398.2,647.5 L1426.7,647.5 L1424.1,652.3 L1406.3,669.0 L1395.7,669.0 L1411.6,654.5 L1396.2,654.5 Z M1402.8,661.6 L1411.6,661.6 L1421.7,668.0 L1420.4,673.6 L1410.7,673.6 L1399.3,666.4 Z M1389.8,676.5 L1420.2,676.5 L1418.4,683.3 L1407.4,683.3 L1404.7,693.0 L1414.9,693.0 L1413.2,700.0 L1383.9,700.0 L1385.6,693.0 L1397.5,693.0 L1400.1,683.3 L1388.0,683.3 Z M1207.7,659.2 L1242.4,659.2 L1240.7,667.4 L1238.7,675.5 L1236.7,682.0 L1234.2,699.0 L1197.7,699.0 L1200.4,682.1 L1190.0,682.1 L1190.0,674.8 L1202.2,674.8 L1203.0,669.8 Z M1211.6,674.5 L1216.1,674.5 L1218.3,665.9 L1213.4,665.9 Z M1222.5,674.5 L1233.8,674.5 L1235.5,665.9 L1224.5,665.9 Z M1207.2,692.2 L1214.2,692.2 L1216.1,682.5 L1209.1,682.5 Z M1220.7,692.2 L1226.7,692.2 L1228.8,682.5 L1222.6,682.5 Z M1313.3,647.0 L1339.7,647.0 L1330.0,685.7 L1328.3,700.0 L1320.0,700.0 L1314.0,688.2 L1310.7,700.0 L1299.8,700.0 L1303.0,686.2 Z M1311.9,684.0 L1321.9,684.0 L1329.0,656.4 L1319.0,656.4 Z" fill="#fff" fill-rule="nonzero"/></g>
<g font-size="28.5" font-weight="700" font-style="italic" fill="#0a0c12" fill-opacity="0.7" stroke="#0a0c12" stroke-opacity="0.7" stroke-width="1.2"><text transform="translate(1193.9,732.6) scale(1.25,1)">z</text><text transform="translate(1220.7,732.6) scale(1.25,1)">z</text><text transform="translate(1248.1,732.6) scale(1.25,1)">r</text><text transform="translate(1271.3,732.6) scale(1.25,1)">t</text><text transform="translate(1290.6,732.6) scale(1.25,1)">0</text><text transform="translate(1350.1,732.6) scale(1.25,1)">.</text><text transform="translate(1370.2,732.6) scale(1.25,1)">c</text><text transform="translate(1395.3,732.6) scale(1.25,1)">n</text><path d="M1333.5,710.9 L1340.5,710.9 L1335.5,732.6 L1328.8,732.6 L1332,717.8 L1327.6,719.2 L1328.6,714.6 Z" transform="translate(-1.3,1)"/></g>
<g font-size="28.5" font-weight="700" font-style="italic" fill="#2049b4" stroke="#2049b4" stroke-width="1.2"><text transform="translate(1195.2,731.6) scale(1.25,1)">z</text><text transform="translate(1222.0,731.6) scale(1.25,1)">z</text><text transform="translate(1249.4,731.6) scale(1.25,1)">r</text><text transform="translate(1272.6,731.6) scale(1.25,1)">t</text><text transform="translate(1291.9,731.6) scale(1.25,1)">0</text><text transform="translate(1351.4,731.6) scale(1.25,1)">.</text><text transform="translate(1371.5,731.6) scale(1.25,1)">c</text><text transform="translate(1396.6,731.6) scale(1.25,1)">n</text><path d="M1333.5,710.9 L1340.5,710.9 L1335.5,732.6 L1328.8,732.6 L1332,717.8 L1327.6,719.2 L1328.6,714.6 Z" stroke-width="0.6"/></g>
</svg></body></html>
